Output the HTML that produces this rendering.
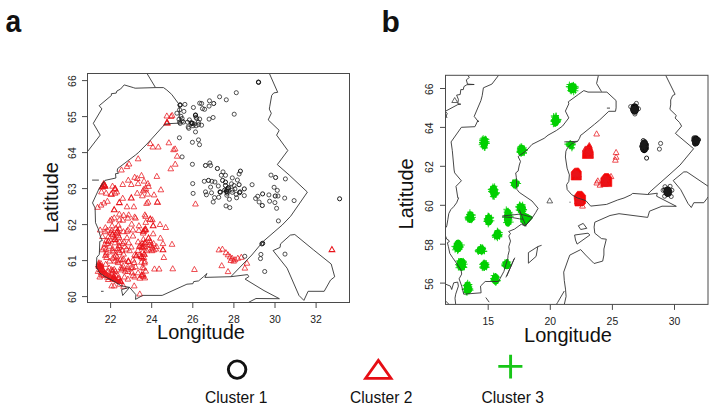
<!DOCTYPE html>
<html><head><meta charset="utf-8"><style>
html,body{margin:0;padding:0;background:#fff;overflow:hidden;width:714px;height:411px;}
svg{display:block;}
text{font-family:"Liberation Sans", sans-serif;}
</style></head><body>
<svg width="714" height="411" viewBox="0 0 714 411">
<defs><clipPath id="clipA"><rect x="87.5" y="73.5" width="262" height="229"/></clipPath><clipPath id="clipB"><rect x="445.5" y="75.3" width="262.5" height="229.1"/></clipPath></defs>
<g clip-path="url(#clipA)">
<path d="M97.5,264 L100.5,262.5 L103.5,264.5 L104.5,269 L108,272.5 L115,276.5 L121,280.5 L121.5,284 L117,283.8 L110,280.5 L104,276.5 L99.5,272.5 L97.5,268.5 Z" fill="#f20a0a" fill-opacity="0.85" stroke="none"/>
<circle cx="236.3" cy="92.7" r="2.05" fill="none" stroke="#1a1a1a" stroke-width="0.75"/>
<circle cx="219.6" cy="96.8" r="2.05" fill="none" stroke="#1a1a1a" stroke-width="0.75"/>
<circle cx="226.3" cy="99.8" r="2.05" fill="none" stroke="#1a1a1a" stroke-width="0.75"/>
<circle cx="209.5" cy="100.8" r="2.05" fill="none" stroke="#1a1a1a" stroke-width="0.75"/>
<circle cx="199.7" cy="103.2" r="2.05" fill="none" stroke="#1a1a1a" stroke-width="0.75"/>
<circle cx="201.6" cy="103.5" r="2.05" fill="none" stroke="#1a1a1a" stroke-width="0.75"/>
<circle cx="193.4" cy="107.5" r="2.05" fill="none" stroke="#1a1a1a" stroke-width="0.75"/>
<circle cx="209.1" cy="106.1" r="2.05" fill="none" stroke="#1a1a1a" stroke-width="0.75"/>
<circle cx="202.5" cy="108.6" r="2.05" fill="none" stroke="#1a1a1a" stroke-width="0.75"/>
<circle cx="204.6" cy="109.3" r="2.05" fill="none" stroke="#1a1a1a" stroke-width="0.75"/>
<circle cx="234.2" cy="114.2" r="2.05" fill="none" stroke="#1a1a1a" stroke-width="0.75"/>
<circle cx="184.9" cy="104.4" r="2.05" fill="none" stroke="#1a1a1a" stroke-width="0.75"/>
<circle cx="179.6" cy="109.8" r="2.05" fill="none" stroke="#1a1a1a" stroke-width="0.75"/>
<circle cx="183.9" cy="111.4" r="2.05" fill="none" stroke="#1a1a1a" stroke-width="0.75"/>
<circle cx="176.9" cy="113.2" r="2.05" fill="none" stroke="#1a1a1a" stroke-width="0.75"/>
<circle cx="209.1" cy="119.1" r="2.05" fill="none" stroke="#1a1a1a" stroke-width="0.75"/>
<circle cx="213.1" cy="117.5" r="2.05" fill="none" stroke="#1a1a1a" stroke-width="0.75"/>
<circle cx="199.7" cy="119.1" r="2.05" fill="none" stroke="#1a1a1a" stroke-width="0.75"/>
<circle cx="189.4" cy="119.9" r="2.05" fill="none" stroke="#1a1a1a" stroke-width="0.75"/>
<circle cx="179.0" cy="119.3" r="2.05" fill="none" stroke="#1a1a1a" stroke-width="0.75"/>
<circle cx="182.1" cy="121.1" r="2.05" fill="none" stroke="#1a1a1a" stroke-width="0.75"/>
<circle cx="213.7" cy="103.5" r="2.05" fill="none" stroke="#1a1a1a" stroke-width="1.0"/>
<circle cx="180.2" cy="104.9" r="2.05" fill="none" stroke="#1a1a1a" stroke-width="1.0"/>
<circle cx="195.5" cy="115.0" r="2.05" fill="none" stroke="#1a1a1a" stroke-width="1.0"/>
<circle cx="196.7" cy="118.5" r="2.05" fill="none" stroke="#1a1a1a" stroke-width="0.75"/>
<circle cx="194.2" cy="124.0" r="2.05" fill="none" stroke="#1a1a1a" stroke-width="0.75"/>
<circle cx="193.0" cy="125.8" r="2.05" fill="none" stroke="#1a1a1a" stroke-width="0.75"/>
<circle cx="196.1" cy="125.8" r="2.05" fill="none" stroke="#1a1a1a" stroke-width="0.75"/>
<circle cx="198.5" cy="124.6" r="2.05" fill="none" stroke="#1a1a1a" stroke-width="0.75"/>
<circle cx="201.6" cy="125.2" r="2.05" fill="none" stroke="#1a1a1a" stroke-width="0.75"/>
<circle cx="187.5" cy="122.2" r="2.05" fill="none" stroke="#1a1a1a" stroke-width="0.75"/>
<circle cx="188.8" cy="128.3" r="2.05" fill="none" stroke="#1a1a1a" stroke-width="0.75"/>
<circle cx="195.5" cy="131.9" r="2.05" fill="none" stroke="#1a1a1a" stroke-width="0.75"/>
<circle cx="179.6" cy="122.2" r="2.05" fill="none" stroke="#1a1a1a" stroke-width="0.75"/>
<circle cx="180.2" cy="123.4" r="2.05" fill="none" stroke="#1a1a1a" stroke-width="0.75"/>
<circle cx="182.1" cy="118.5" r="2.05" fill="none" stroke="#1a1a1a" stroke-width="0.75"/>
<circle cx="179.4" cy="137.8" r="2.05" fill="none" stroke="#1a1a1a" stroke-width="0.75"/>
<circle cx="192.4" cy="142.3" r="2.05" fill="none" stroke="#1a1a1a" stroke-width="0.75"/>
<circle cx="198.5" cy="139.9" r="2.05" fill="none" stroke="#1a1a1a" stroke-width="0.75"/>
<circle cx="199.5" cy="144.7" r="2.05" fill="none" stroke="#1a1a1a" stroke-width="0.75"/>
<circle cx="182.1" cy="156.9" r="2.05" fill="none" stroke="#1a1a1a" stroke-width="0.75"/>
<circle cx="191.2" cy="122.8" r="2.05" fill="none" stroke="#1a1a1a" stroke-width="1.0"/>
<circle cx="192.1" cy="123.6" r="2.05" fill="none" stroke="#1a1a1a" stroke-width="1.0"/>
<path d="M166.8,112.9 L169.7,118.0 L164.0,118.0 Z" fill="none" stroke="#e8141b" stroke-width="0.75"/>
<path d="M172.1,112.3 L174.9,117.4 L169.2,117.4 Z" fill="none" stroke="#e8141b" stroke-width="0.75"/>
<path d="M168.9,139.7 L171.7,144.8 L166.0,144.8 Z" fill="none" stroke="#e8141b" stroke-width="0.75"/>
<path d="M175.1,145.8 L178.0,150.9 L172.3,150.9 Z" fill="none" stroke="#e8141b" stroke-width="0.75"/>
<path d="M177.2,153.1 L180.0,158.2 L174.3,158.2 Z" fill="none" stroke="#e8141b" stroke-width="0.75"/>
<path d="M167.2,119.6 L170.0,124.7 L164.3,124.7 Z" fill="none" stroke="#e8141b" stroke-width="1.05"/>
<path d="M171.1,113.4 L173.9,118.5 L168.2,118.5 Z" fill="none" stroke="#e8141b" stroke-width="0.75"/>
<path d="M150.4,140.5 L153.2,145.6 L147.5,145.6 Z" fill="none" stroke="#e8141b" stroke-width="0.75"/>
<path d="M152.8,143.9 L155.6,149.0 L149.9,149.0 Z" fill="none" stroke="#e8141b" stroke-width="0.75"/>
<path d="M158.3,143.9 L161.1,149.0 L155.4,149.0 Z" fill="none" stroke="#e8141b" stroke-width="0.75"/>
<path d="M138.2,155.7 L141.0,160.8 L135.3,160.8 Z" fill="none" stroke="#e8141b" stroke-width="0.75"/>
<path d="M129.0,160.9 L131.9,166.0 L126.2,166.0 Z" fill="none" stroke="#e8141b" stroke-width="0.75"/>
<path d="M173.5,146.6 L176.4,151.7 L170.7,151.7 Z" fill="none" stroke="#e8141b" stroke-width="0.75"/>
<path d="M166.8,119.8 L169.7,124.9 L164.0,124.9 Z" fill="none" stroke="#e8141b" stroke-width="1.05"/>
<circle cx="258.4" cy="82.1" r="2.05" fill="none" stroke="#1a1a1a" stroke-width="1.0"/>
<circle cx="258.6" cy="82.3" r="2.05" fill="none" stroke="#1a1a1a" stroke-width="1.0"/>
<circle cx="271.0" cy="175.1" r="2.05" fill="none" stroke="#1a1a1a" stroke-width="0.75"/>
<circle cx="285.4" cy="178.9" r="2.05" fill="none" stroke="#1a1a1a" stroke-width="0.75"/>
<circle cx="275.6" cy="177.5" r="2.05" fill="none" stroke="#1a1a1a" stroke-width="1.0"/>
<circle cx="274.1" cy="187.3" r="2.05" fill="none" stroke="#1a1a1a" stroke-width="0.75"/>
<circle cx="277.3" cy="190.4" r="2.05" fill="none" stroke="#1a1a1a" stroke-width="0.75"/>
<circle cx="268.9" cy="194.9" r="2.05" fill="none" stroke="#1a1a1a" stroke-width="0.75"/>
<circle cx="257.7" cy="196.3" r="2.05" fill="none" stroke="#1a1a1a" stroke-width="0.75"/>
<circle cx="255.6" cy="198.5" r="2.05" fill="none" stroke="#1a1a1a" stroke-width="0.75"/>
<circle cx="278.0" cy="196.0" r="2.05" fill="none" stroke="#1a1a1a" stroke-width="0.75"/>
<circle cx="284.7" cy="198.1" r="2.05" fill="none" stroke="#1a1a1a" stroke-width="0.75"/>
<circle cx="294.1" cy="200.6" r="2.05" fill="none" stroke="#1a1a1a" stroke-width="0.75"/>
<circle cx="269.6" cy="201.2" r="2.05" fill="none" stroke="#1a1a1a" stroke-width="0.75"/>
<circle cx="274.9" cy="202.6" r="2.05" fill="none" stroke="#1a1a1a" stroke-width="0.75"/>
<circle cx="259.1" cy="202.0" r="2.05" fill="none" stroke="#1a1a1a" stroke-width="0.75"/>
<circle cx="276.6" cy="208.3" r="2.05" fill="none" stroke="#1a1a1a" stroke-width="0.75"/>
<circle cx="278.4" cy="220.9" r="2.05" fill="none" stroke="#1a1a1a" stroke-width="0.75"/>
<circle cx="262.6" cy="193.9" r="2.05" fill="none" stroke="#1a1a1a" stroke-width="1.0"/>
<circle cx="275.2" cy="196.0" r="2.05" fill="none" stroke="#1a1a1a" stroke-width="1.0"/>
<circle cx="262.3" cy="205.5" r="2.05" fill="none" stroke="#1a1a1a" stroke-width="1.0"/>
<circle cx="339.6" cy="198.8" r="2.05" fill="none" stroke="#1a1a1a" stroke-width="1.0"/>
<circle cx="209.8" cy="163.0" r="2.05" fill="none" stroke="#1a1a1a" stroke-width="0.75"/>
<circle cx="210.6" cy="165.5" r="2.05" fill="none" stroke="#1a1a1a" stroke-width="0.75"/>
<circle cx="223.0" cy="171.9" r="2.05" fill="none" stroke="#1a1a1a" stroke-width="0.75"/>
<circle cx="221.3" cy="175.3" r="2.05" fill="none" stroke="#1a1a1a" stroke-width="0.75"/>
<circle cx="225.5" cy="175.3" r="2.05" fill="none" stroke="#1a1a1a" stroke-width="0.75"/>
<circle cx="239.1" cy="174.0" r="2.05" fill="none" stroke="#1a1a1a" stroke-width="0.75"/>
<circle cx="204.3" cy="181.3" r="2.05" fill="none" stroke="#1a1a1a" stroke-width="0.75"/>
<circle cx="211.9" cy="181.3" r="2.05" fill="none" stroke="#1a1a1a" stroke-width="0.75"/>
<circle cx="214.9" cy="182.0" r="2.05" fill="none" stroke="#1a1a1a" stroke-width="0.75"/>
<circle cx="232.3" cy="177.9" r="2.05" fill="none" stroke="#1a1a1a" stroke-width="0.75"/>
<circle cx="237.4" cy="180.0" r="2.05" fill="none" stroke="#1a1a1a" stroke-width="0.75"/>
<circle cx="210.6" cy="187.1" r="2.05" fill="none" stroke="#1a1a1a" stroke-width="0.75"/>
<circle cx="218.3" cy="186.0" r="2.05" fill="none" stroke="#1a1a1a" stroke-width="0.75"/>
<circle cx="234.0" cy="185.5" r="2.05" fill="none" stroke="#1a1a1a" stroke-width="0.75"/>
<circle cx="252.1" cy="184.7" r="2.05" fill="none" stroke="#1a1a1a" stroke-width="0.75"/>
<circle cx="205.5" cy="191.9" r="2.05" fill="none" stroke="#1a1a1a" stroke-width="0.75"/>
<circle cx="211.5" cy="192.8" r="2.05" fill="none" stroke="#1a1a1a" stroke-width="0.75"/>
<circle cx="232.3" cy="192.3" r="2.05" fill="none" stroke="#1a1a1a" stroke-width="0.75"/>
<circle cx="231.5" cy="183.8" r="2.05" fill="none" stroke="#1a1a1a" stroke-width="0.75"/>
<circle cx="234.9" cy="188.9" r="2.05" fill="none" stroke="#1a1a1a" stroke-width="0.75"/>
<circle cx="205.5" cy="165.5" r="2.05" fill="none" stroke="#1a1a1a" stroke-width="1.0"/>
<circle cx="217.4" cy="168.5" r="2.05" fill="none" stroke="#1a1a1a" stroke-width="1.0"/>
<circle cx="240.4" cy="171.1" r="2.05" fill="none" stroke="#1a1a1a" stroke-width="1.0"/>
<circle cx="208.5" cy="180.4" r="2.05" fill="none" stroke="#1a1a1a" stroke-width="1.0"/>
<circle cx="222.6" cy="180.4" r="2.05" fill="none" stroke="#1a1a1a" stroke-width="1.0"/>
<circle cx="225.5" cy="185.5" r="2.05" fill="none" stroke="#1a1a1a" stroke-width="1.0"/>
<circle cx="239.1" cy="184.7" r="2.05" fill="none" stroke="#1a1a1a" stroke-width="1.0"/>
<circle cx="244.3" cy="188.9" r="2.05" fill="none" stroke="#1a1a1a" stroke-width="1.0"/>
<circle cx="220.0" cy="191.9" r="2.05" fill="none" stroke="#1a1a1a" stroke-width="1.0"/>
<circle cx="227.2" cy="191.5" r="2.05" fill="none" stroke="#1a1a1a" stroke-width="1.0"/>
<circle cx="240.0" cy="191.9" r="2.05" fill="none" stroke="#1a1a1a" stroke-width="1.0"/>
<circle cx="225.5" cy="182.1" r="2.05" fill="none" stroke="#1a1a1a" stroke-width="1.0"/>
<circle cx="228.1" cy="188.1" r="2.05" fill="none" stroke="#1a1a1a" stroke-width="1.0"/>
<circle cx="226.8" cy="195.2" r="2.05" fill="none" stroke="#1a1a1a" stroke-width="0.75"/>
<circle cx="232.3" cy="190.1" r="2.05" fill="none" stroke="#1a1a1a" stroke-width="0.75"/>
<circle cx="244.3" cy="195.6" r="2.05" fill="none" stroke="#1a1a1a" stroke-width="0.75"/>
<circle cx="236.2" cy="194.4" r="2.05" fill="none" stroke="#1a1a1a" stroke-width="0.75"/>
<circle cx="236.6" cy="197.8" r="2.05" fill="none" stroke="#1a1a1a" stroke-width="0.75"/>
<circle cx="229.4" cy="199.3" r="2.05" fill="none" stroke="#1a1a1a" stroke-width="0.75"/>
<circle cx="218.7" cy="197.3" r="2.05" fill="none" stroke="#1a1a1a" stroke-width="0.75"/>
<circle cx="214.5" cy="197.6" r="2.05" fill="none" stroke="#1a1a1a" stroke-width="0.75"/>
<circle cx="206.4" cy="194.8" r="2.05" fill="none" stroke="#1a1a1a" stroke-width="0.75"/>
<circle cx="213.2" cy="202.0" r="2.05" fill="none" stroke="#1a1a1a" stroke-width="0.75"/>
<circle cx="226.0" cy="205.9" r="2.05" fill="none" stroke="#1a1a1a" stroke-width="0.75"/>
<circle cx="229.8" cy="207.6" r="2.05" fill="none" stroke="#1a1a1a" stroke-width="0.75"/>
<circle cx="227.2" cy="189.3" r="2.05" fill="none" stroke="#1a1a1a" stroke-width="1.0"/>
<circle cx="227.2" cy="193.1" r="2.05" fill="none" stroke="#1a1a1a" stroke-width="1.0"/>
<circle cx="239.6" cy="192.7" r="2.05" fill="none" stroke="#1a1a1a" stroke-width="1.0"/>
<circle cx="220.4" cy="192.2" r="2.05" fill="none" stroke="#1a1a1a" stroke-width="1.0"/>
<circle cx="226.4" cy="191.0" r="2.05" fill="none" stroke="#1a1a1a" stroke-width="1.0"/>
<circle cx="228.5" cy="187.6" r="2.05" fill="none" stroke="#1a1a1a" stroke-width="1.0"/>
<circle cx="224.7" cy="190.1" r="2.05" fill="none" stroke="#1a1a1a" stroke-width="1.0"/>
<path d="M175.2,161.1 L178.1,166.2 L172.4,166.2 Z" fill="none" stroke="#e8141b" stroke-width="0.75"/>
<path d="M170.8,165.7 L173.6,170.8 L167.9,170.8 Z" fill="none" stroke="#e8141b" stroke-width="0.75"/>
<circle cx="192.4" cy="164.3" r="2.05" fill="none" stroke="#1a1a1a" stroke-width="0.75"/>
<circle cx="192.7" cy="183.6" r="2.05" fill="none" stroke="#1a1a1a" stroke-width="0.75"/>
<circle cx="193.1" cy="193.4" r="2.05" fill="none" stroke="#1a1a1a" stroke-width="0.75"/>
<path d="M195.5,200.9 L198.3,206.0 L192.6,206.0 Z" fill="none" stroke="#e8141b" stroke-width="0.75"/>
<circle cx="260.9" cy="254.4" r="2.05" fill="none" stroke="#1a1a1a" stroke-width="0.75"/>
<circle cx="260.5" cy="258.6" r="2.05" fill="none" stroke="#1a1a1a" stroke-width="0.75"/>
<circle cx="285.0" cy="254.1" r="2.05" fill="none" stroke="#1a1a1a" stroke-width="0.75"/>
<circle cx="264.7" cy="271.5" r="2.05" fill="none" stroke="#1a1a1a" stroke-width="0.75"/>
<circle cx="261.9" cy="243.9" r="2.05" fill="none" stroke="#1a1a1a" stroke-width="1.0"/>
<circle cx="262.7" cy="243.3" r="2.05" fill="none" stroke="#1a1a1a" stroke-width="1.0"/>
<path d="M331.9,246.5 L334.8,251.6 L329.1,251.6 Z" fill="none" stroke="#e8141b" stroke-width="1.05"/>
<path d="M165.7,224.4 L168.6,229.5 L162.9,229.5 Z" fill="none" stroke="#e8141b" stroke-width="0.75"/>
<path d="M172.0,241.2 L174.9,246.3 L169.2,246.3 Z" fill="none" stroke="#e8141b" stroke-width="0.75"/>
<path d="M218.9,246.8 L221.8,251.9 L216.1,251.9 Z" fill="none" stroke="#e8141b" stroke-width="0.75"/>
<path d="M222.4,246.1 L225.3,251.2 L219.6,251.2 Z" fill="none" stroke="#e8141b" stroke-width="0.75"/>
<path d="M225.9,249.6 L228.8,254.7 L223.1,254.7 Z" fill="none" stroke="#e8141b" stroke-width="0.75"/>
<path d="M228.0,251.7 L230.9,256.8 L225.2,256.8 Z" fill="none" stroke="#e8141b" stroke-width="0.75"/>
<path d="M230.1,253.8 L233.0,258.9 L227.3,258.9 Z" fill="none" stroke="#e8141b" stroke-width="0.75"/>
<path d="M232.2,255.2 L235.1,260.3 L229.4,260.3 Z" fill="none" stroke="#e8141b" stroke-width="0.75"/>
<path d="M235.0,256.6 L237.9,261.7 L232.2,261.7 Z" fill="none" stroke="#e8141b" stroke-width="0.75"/>
<path d="M237.8,255.2 L240.7,260.3 L235.0,260.3 Z" fill="none" stroke="#e8141b" stroke-width="0.75"/>
<path d="M241.3,254.2 L244.2,259.3 L238.5,259.3 Z" fill="none" stroke="#e8141b" stroke-width="0.75"/>
<path d="M230.8,257.3 L233.7,262.4 L228.0,262.4 Z" fill="none" stroke="#e8141b" stroke-width="0.75"/>
<path d="M233.6,258.0 L236.5,263.1 L230.8,263.1 Z" fill="none" stroke="#e8141b" stroke-width="0.75"/>
<path d="M246.9,260.1 L249.8,265.2 L244.1,265.2 Z" fill="none" stroke="#e8141b" stroke-width="0.75"/>
<path d="M244.8,265.0 L247.7,270.1 L242.0,270.1 Z" fill="none" stroke="#e8141b" stroke-width="0.75"/>
<path d="M221.7,262.6 L224.6,267.7 L218.9,267.7 Z" fill="none" stroke="#e8141b" stroke-width="0.75"/>
<path d="M228.0,268.5 L230.9,273.6 L225.2,273.6 Z" fill="none" stroke="#e8141b" stroke-width="0.75"/>
<path d="M172.7,265.7 L175.6,270.8 L169.9,270.8 Z" fill="none" stroke="#e8141b" stroke-width="0.75"/>
<path d="M194.4,266.4 L197.3,271.5 L191.6,271.5 Z" fill="none" stroke="#e8141b" stroke-width="0.75"/>
<circle cx="244.8" cy="256.3" r="2.05" fill="none" stroke="#1a1a1a" stroke-width="0.75"/>
<path d="M127.0,163.5 L129.8,168.6 L124.2,168.6 Z" fill="none" stroke="#e8141b" stroke-width="0.75"/>
<path d="M121.5,166.9 L124.3,172.0 L118.6,172.0 Z" fill="none" stroke="#e8141b" stroke-width="0.75"/>
<path d="M141.5,172.4 L144.3,177.6 L138.6,177.6 Z" fill="none" stroke="#e8141b" stroke-width="0.75"/>
<path d="M134.7,174.2 L137.5,179.3 L131.8,179.3 Z" fill="none" stroke="#e8141b" stroke-width="0.75"/>
<path d="M137.2,175.4 L140.1,180.5 L134.4,180.5 Z" fill="none" stroke="#e8141b" stroke-width="0.75"/>
<path d="M128.3,177.1 L131.1,182.2 L125.4,182.2 Z" fill="none" stroke="#e8141b" stroke-width="0.75"/>
<path d="M122.7,181.4 L125.6,186.5 L119.9,186.5 Z" fill="none" stroke="#e8141b" stroke-width="0.75"/>
<path d="M131.3,181.4 L134.1,186.5 L128.4,186.5 Z" fill="none" stroke="#e8141b" stroke-width="0.75"/>
<path d="M138.1,180.5 L140.9,185.6 L135.2,185.6 Z" fill="none" stroke="#e8141b" stroke-width="0.75"/>
<path d="M144.0,178.0 L146.9,183.1 L141.2,183.1 Z" fill="none" stroke="#e8141b" stroke-width="0.75"/>
<path d="M112.5,183.1 L115.4,188.2 L109.7,188.2 Z" fill="none" stroke="#e8141b" stroke-width="0.75"/>
<path d="M115.1,185.2 L117.9,190.3 L112.2,190.3 Z" fill="none" stroke="#e8141b" stroke-width="0.75"/>
<path d="M145.7,185.6 L148.6,190.7 L142.9,190.7 Z" fill="none" stroke="#e8141b" stroke-width="0.75"/>
<path d="M104.0,181.8 L106.9,186.9 L101.2,186.9 Z" fill="none" stroke="#e8141b" stroke-width="1.05"/>
<path d="M102.3,183.9 L105.2,189.0 L99.5,189.0 Z" fill="none" stroke="#e8141b" stroke-width="1.05"/>
<path d="M103.6,181.0 L106.4,186.1 L100.7,186.1 Z" fill="none" stroke="#e8141b" stroke-width="1.05"/>
<path d="M104.9,183.1 L107.7,188.2 L102.0,188.2 Z" fill="none" stroke="#e8141b" stroke-width="1.05"/>
<path d="M101.5,188.8 L104.3,193.9 L98.6,193.9 Z" fill="none" stroke="#e8141b" stroke-width="0.75"/>
<path d="M106.1,190.1 L109.0,195.2 L103.3,195.2 Z" fill="none" stroke="#e8141b" stroke-width="0.75"/>
<path d="M115.1,190.1 L117.9,195.2 L112.2,195.2 Z" fill="none" stroke="#e8141b" stroke-width="0.75"/>
<path d="M116.8,188.8 L119.6,193.9 L113.9,193.9 Z" fill="none" stroke="#e8141b" stroke-width="0.75"/>
<path d="M122.7,195.2 L125.6,200.3 L119.9,200.3 Z" fill="none" stroke="#e8141b" stroke-width="0.75"/>
<path d="M137.2,190.1 L140.1,195.2 L134.4,195.2 Z" fill="none" stroke="#e8141b" stroke-width="0.75"/>
<path d="M143.2,187.6 L146.0,192.7 L140.3,192.7 Z" fill="none" stroke="#e8141b" stroke-width="0.75"/>
<path d="M142.3,192.7 L145.2,197.8 L139.5,197.8 Z" fill="none" stroke="#e8141b" stroke-width="0.75"/>
<path d="M107.4,198.2 L110.3,203.3 L104.6,203.3 Z" fill="none" stroke="#e8141b" stroke-width="0.75"/>
<path d="M104.0,199.9 L106.9,205.0 L101.2,205.0 Z" fill="none" stroke="#e8141b" stroke-width="0.75"/>
<path d="M101.0,202.0 L103.9,207.1 L98.2,207.1 Z" fill="none" stroke="#e8141b" stroke-width="0.75"/>
<path d="M97.6,204.2 L100.5,209.3 L94.8,209.3 Z" fill="none" stroke="#e8141b" stroke-width="0.75"/>
<path d="M127.0,203.7 L129.8,208.8 L124.2,208.8 Z" fill="none" stroke="#e8141b" stroke-width="0.75"/>
<path d="M133.8,203.7 L136.7,208.8 L131.0,208.8 Z" fill="none" stroke="#e8141b" stroke-width="0.75"/>
<path d="M119.3,211.0 L122.2,216.1 L116.5,216.1 Z" fill="none" stroke="#e8141b" stroke-width="0.75"/>
<path d="M123.6,212.2 L126.4,217.3 L120.7,217.3 Z" fill="none" stroke="#e8141b" stroke-width="0.75"/>
<path d="M128.7,211.8 L131.6,216.9 L125.9,216.9 Z" fill="none" stroke="#e8141b" stroke-width="0.75"/>
<path d="M134.7,213.9 L137.5,219.0 L131.8,219.0 Z" fill="none" stroke="#e8141b" stroke-width="0.75"/>
<path d="M114.2,214.8 L117.1,219.9 L111.4,219.9 Z" fill="none" stroke="#e8141b" stroke-width="0.75"/>
<path d="M111.7,216.1 L114.5,221.2 L108.8,221.2 Z" fill="none" stroke="#e8141b" stroke-width="0.75"/>
<path d="M144.9,211.8 L147.7,216.9 L142.0,216.9 Z" fill="none" stroke="#e8141b" stroke-width="0.75"/>
<path d="M146.6,200.3 L149.4,205.4 L143.7,205.4 Z" fill="none" stroke="#e8141b" stroke-width="0.75"/>
<path d="M102.3,183.3 L105.2,188.4 L99.5,188.4 Z" fill="none" stroke="#e8141b" stroke-width="1.05"/>
<path d="M104.9,182.4 L107.7,187.6 L102.0,187.6 Z" fill="none" stroke="#e8141b" stroke-width="1.05"/>
<path d="M115.1,185.9 L117.9,191.0 L112.2,191.0 Z" fill="none" stroke="#e8141b" stroke-width="1.05"/>
<path d="M111.3,191.0 L114.1,196.1 L108.4,196.1 Z" fill="none" stroke="#e8141b" stroke-width="1.05"/>
<path d="M131.3,194.8 L134.1,199.9 L128.4,199.9 Z" fill="none" stroke="#e8141b" stroke-width="1.05"/>
<path d="M119.3,199.5 L122.2,204.6 L116.5,204.6 Z" fill="none" stroke="#e8141b" stroke-width="1.05"/>
<path d="M114.2,206.7 L117.1,211.8 L111.4,211.8 Z" fill="none" stroke="#e8141b" stroke-width="1.05"/>
<path d="M110.0,217.6 L112.8,222.7 L107.1,222.7 Z" fill="none" stroke="#e8141b" stroke-width="0.75"/>
<path d="M119.3,216.7 L122.2,221.8 L116.5,221.8 Z" fill="none" stroke="#e8141b" stroke-width="0.75"/>
<path d="M122.7,217.1 L125.6,222.2 L119.9,222.2 Z" fill="none" stroke="#e8141b" stroke-width="0.75"/>
<path d="M127.9,215.0 L130.7,220.1 L125.0,220.1 Z" fill="none" stroke="#e8141b" stroke-width="0.75"/>
<path d="M135.5,215.0 L138.4,220.1 L132.7,220.1 Z" fill="none" stroke="#e8141b" stroke-width="0.75"/>
<path d="M145.7,213.3 L148.6,218.4 L142.9,218.4 Z" fill="none" stroke="#e8141b" stroke-width="0.75"/>
<path d="M131.7,221.0 L134.5,226.1 L128.8,226.1 Z" fill="none" stroke="#e8141b" stroke-width="0.75"/>
<path d="M138.9,222.7 L141.8,227.8 L136.1,227.8 Z" fill="none" stroke="#e8141b" stroke-width="0.75"/>
<path d="M145.7,219.3 L148.6,224.4 L142.9,224.4 Z" fill="none" stroke="#e8141b" stroke-width="0.75"/>
<path d="M100.2,226.9 L103.0,232.0 L97.3,232.0 Z" fill="none" stroke="#e8141b" stroke-width="0.75"/>
<path d="M105.3,228.6 L108.1,233.7 L102.4,233.7 Z" fill="none" stroke="#e8141b" stroke-width="0.75"/>
<path d="M112.1,222.7 L115.0,227.8 L109.3,227.8 Z" fill="none" stroke="#e8141b" stroke-width="0.75"/>
<path d="M115.9,225.2 L118.8,230.3 L113.1,230.3 Z" fill="none" stroke="#e8141b" stroke-width="0.75"/>
<path d="M127.0,228.2 L129.8,233.3 L124.2,233.3 Z" fill="none" stroke="#e8141b" stroke-width="0.75"/>
<path d="M133.0,226.9 L135.8,232.0 L130.1,232.0 Z" fill="none" stroke="#e8141b" stroke-width="0.75"/>
<path d="M138.9,227.3 L141.8,232.4 L136.1,232.4 Z" fill="none" stroke="#e8141b" stroke-width="0.75"/>
<path d="M108.3,233.7 L111.1,238.8 L105.4,238.8 Z" fill="none" stroke="#e8141b" stroke-width="0.75"/>
<path d="M116.8,229.5 L119.6,234.6 L113.9,234.6 Z" fill="none" stroke="#e8141b" stroke-width="0.75"/>
<path d="M119.3,234.6 L122.2,239.7 L116.5,239.7 Z" fill="none" stroke="#e8141b" stroke-width="0.75"/>
<path d="M127.0,234.6 L129.8,239.7 L124.2,239.7 Z" fill="none" stroke="#e8141b" stroke-width="0.75"/>
<path d="M133.0,232.9 L135.8,238.0 L130.1,238.0 Z" fill="none" stroke="#e8141b" stroke-width="0.75"/>
<path d="M107.4,240.5 L110.3,245.6 L104.6,245.6 Z" fill="none" stroke="#e8141b" stroke-width="0.75"/>
<path d="M115.1,239.7 L117.9,244.8 L112.2,244.8 Z" fill="none" stroke="#e8141b" stroke-width="0.75"/>
<path d="M122.7,240.5 L125.6,245.6 L119.9,245.6 Z" fill="none" stroke="#e8141b" stroke-width="0.75"/>
<path d="M128.7,239.7 L131.6,244.8 L125.9,244.8 Z" fill="none" stroke="#e8141b" stroke-width="0.75"/>
<path d="M138.1,238.8 L140.9,243.9 L135.2,243.9 Z" fill="none" stroke="#e8141b" stroke-width="0.75"/>
<path d="M104.0,244.8 L106.9,249.9 L101.2,249.9 Z" fill="none" stroke="#e8141b" stroke-width="0.75"/>
<path d="M112.5,245.6 L115.4,250.7 L109.7,250.7 Z" fill="none" stroke="#e8141b" stroke-width="0.75"/>
<path d="M119.3,243.9 L122.2,249.0 L116.5,249.0 Z" fill="none" stroke="#e8141b" stroke-width="0.75"/>
<path d="M131.3,243.9 L134.1,249.0 L128.4,249.0 Z" fill="none" stroke="#e8141b" stroke-width="0.75"/>
<path d="M141.5,243.9 L144.3,249.0 L138.6,249.0 Z" fill="none" stroke="#e8141b" stroke-width="0.75"/>
<path d="M144.9,226.9 L147.7,232.0 L142.0,232.0 Z" fill="none" stroke="#e8141b" stroke-width="1.05"/>
<path d="M144.9,239.7 L147.7,244.8 L142.0,244.8 Z" fill="none" stroke="#e8141b" stroke-width="1.05"/>
<path d="M112.5,231.2 L115.4,236.3 L109.7,236.3 Z" fill="none" stroke="#e8141b" stroke-width="1.05"/>
<path d="M115.1,236.3 L117.9,241.4 L112.2,241.4 Z" fill="none" stroke="#e8141b" stroke-width="1.05"/>
<path d="M108.3,238.0 L111.1,243.1 L105.4,243.1 Z" fill="none" stroke="#e8141b" stroke-width="1.05"/>
<path d="M117.6,227.8 L120.5,232.9 L114.8,232.9 Z" fill="none" stroke="#e8141b" stroke-width="1.05"/>
<path d="M102.3,246.7 L105.2,251.8 L99.5,251.8 Z" fill="none" stroke="#e8141b" stroke-width="0.75"/>
<path d="M106.6,249.3 L109.4,254.4 L103.7,254.4 Z" fill="none" stroke="#e8141b" stroke-width="0.75"/>
<path d="M112.5,247.6 L115.4,252.7 L109.7,252.7 Z" fill="none" stroke="#e8141b" stroke-width="0.75"/>
<path d="M119.3,249.3 L122.2,254.4 L116.5,254.4 Z" fill="none" stroke="#e8141b" stroke-width="0.75"/>
<path d="M123.6,251.0 L126.4,256.1 L120.7,256.1 Z" fill="none" stroke="#e8141b" stroke-width="0.75"/>
<path d="M129.6,247.6 L132.4,252.7 L126.7,252.7 Z" fill="none" stroke="#e8141b" stroke-width="0.75"/>
<path d="M134.7,251.8 L137.5,256.9 L131.8,256.9 Z" fill="none" stroke="#e8141b" stroke-width="0.75"/>
<path d="M139.8,251.8 L142.6,256.9 L136.9,256.9 Z" fill="none" stroke="#e8141b" stroke-width="0.75"/>
<path d="M142.3,255.2 L145.2,260.3 L139.5,260.3 Z" fill="none" stroke="#e8141b" stroke-width="0.75"/>
<path d="M106.6,254.4 L109.4,259.5 L103.7,259.5 Z" fill="none" stroke="#e8141b" stroke-width="0.75"/>
<path d="M112.5,255.2 L115.4,260.3 L109.7,260.3 Z" fill="none" stroke="#e8141b" stroke-width="0.75"/>
<path d="M117.6,257.8 L120.5,262.9 L114.8,262.9 Z" fill="none" stroke="#e8141b" stroke-width="0.75"/>
<path d="M123.6,256.1 L126.4,261.2 L120.7,261.2 Z" fill="none" stroke="#e8141b" stroke-width="0.75"/>
<path d="M128.7,258.6 L131.6,263.7 L125.9,263.7 Z" fill="none" stroke="#e8141b" stroke-width="0.75"/>
<path d="M133.0,256.9 L135.8,262.0 L130.1,262.0 Z" fill="none" stroke="#e8141b" stroke-width="0.75"/>
<path d="M127.9,263.7 L130.7,268.8 L125.0,268.8 Z" fill="none" stroke="#e8141b" stroke-width="0.75"/>
<path d="M131.3,264.6 L134.1,269.7 L128.4,269.7 Z" fill="none" stroke="#e8141b" stroke-width="0.75"/>
<path d="M135.5,263.7 L138.4,268.8 L132.7,268.8 Z" fill="none" stroke="#e8141b" stroke-width="0.75"/>
<path d="M142.3,264.6 L145.2,269.7 L139.5,269.7 Z" fill="none" stroke="#e8141b" stroke-width="0.75"/>
<path d="M145.7,268.0 L148.6,273.1 L142.9,273.1 Z" fill="none" stroke="#e8141b" stroke-width="0.75"/>
<path d="M108.3,268.0 L111.1,273.1 L105.4,273.1 Z" fill="none" stroke="#e8141b" stroke-width="0.75"/>
<path d="M114.2,266.3 L117.1,271.4 L111.4,271.4 Z" fill="none" stroke="#e8141b" stroke-width="0.75"/>
<path d="M121.0,264.6 L123.9,269.7 L118.2,269.7 Z" fill="none" stroke="#e8141b" stroke-width="0.75"/>
<path d="M125.3,268.0 L128.1,273.1 L122.4,273.1 Z" fill="none" stroke="#e8141b" stroke-width="0.75"/>
<path d="M132.1,269.7 L135.0,274.8 L129.3,274.8 Z" fill="none" stroke="#e8141b" stroke-width="0.75"/>
<path d="M138.1,269.7 L140.9,274.8 L135.2,274.8 Z" fill="none" stroke="#e8141b" stroke-width="0.75"/>
<path d="M143.2,271.4 L146.0,276.5 L140.3,276.5 Z" fill="none" stroke="#e8141b" stroke-width="0.75"/>
<path d="M144.9,274.8 L147.7,279.9 L142.0,279.9 Z" fill="none" stroke="#e8141b" stroke-width="0.75"/>
<path d="M99.8,273.9 L102.6,279.0 L96.9,279.0 Z" fill="none" stroke="#e8141b" stroke-width="0.75"/>
<path d="M124.4,273.9 L127.3,279.0 L121.6,279.0 Z" fill="none" stroke="#e8141b" stroke-width="0.75"/>
<path d="M134.7,273.9 L137.5,279.0 L131.8,279.0 Z" fill="none" stroke="#e8141b" stroke-width="0.75"/>
<path d="M128.3,258.2 L131.1,263.3 L125.4,263.3 Z" fill="none" stroke="#e8141b" stroke-width="1.05"/>
<path d="M136.4,252.7 L139.2,257.8 L133.5,257.8 Z" fill="none" stroke="#e8141b" stroke-width="1.05"/>
<path d="M141.5,253.5 L144.3,258.6 L138.6,258.6 Z" fill="none" stroke="#e8141b" stroke-width="1.05"/>
<path d="M111.7,282.8 L114.5,287.9 L108.8,287.9 Z" fill="none" stroke="#e8141b" stroke-width="0.75"/>
<path d="M114.2,282.8 L117.1,287.9 L111.4,287.9 Z" fill="none" stroke="#e8141b" stroke-width="0.75"/>
<path d="M123.6,283.2 L126.4,288.3 L120.7,288.3 Z" fill="none" stroke="#e8141b" stroke-width="0.75"/>
<path d="M134.2,282.8 L137.1,287.9 L131.4,287.9 Z" fill="none" stroke="#e8141b" stroke-width="0.75"/>
<path d="M139.8,290.9 L142.6,296.0 L136.9,296.0 Z" fill="none" stroke="#e8141b" stroke-width="0.75"/>
<path d="M139.8,275.1 L142.6,280.2 L136.9,280.2 Z" fill="none" stroke="#e8141b" stroke-width="0.75"/>
<path d="M143.2,273.4 L146.0,278.5 L140.3,278.5 Z" fill="none" stroke="#e8141b" stroke-width="0.75"/>
<path d="M127.9,276.0 L130.7,281.1 L125.0,281.1 Z" fill="none" stroke="#e8141b" stroke-width="0.75"/>
<path d="M133.0,272.6 L135.8,277.7 L130.1,277.7 Z" fill="none" stroke="#e8141b" stroke-width="0.75"/>
<path d="M155.7,245.9 L158.6,251.0 L152.9,251.0 Z" fill="none" stroke="#e8141b" stroke-width="0.75"/>
<path d="M151.9,247.6 L154.8,252.7 L149.1,252.7 Z" fill="none" stroke="#e8141b" stroke-width="0.75"/>
<path d="M163.8,254.4 L166.7,259.5 L161.0,259.5 Z" fill="none" stroke="#e8141b" stroke-width="0.75"/>
<path d="M143.8,254.4 L146.7,259.5 L141.0,259.5 Z" fill="none" stroke="#e8141b" stroke-width="0.75"/>
<path d="M143.8,265.0 L146.7,270.1 L141.0,270.1 Z" fill="none" stroke="#e8141b" stroke-width="0.75"/>
<path d="M154.5,265.9 L157.3,271.0 L151.6,271.0 Z" fill="none" stroke="#e8141b" stroke-width="0.75"/>
<path d="M159.1,265.9 L162.0,271.0 L156.3,271.0 Z" fill="none" stroke="#e8141b" stroke-width="0.75"/>
<path d="M146.8,247.6 L149.7,252.7 L144.0,252.7 Z" fill="none" stroke="#e8141b" stroke-width="0.75"/>
<path d="M142.6,249.3 L145.4,254.4 L139.7,254.4 Z" fill="none" stroke="#e8141b" stroke-width="0.75"/>
<path d="M163.0,246.7 L165.8,251.8 L160.1,251.8 Z" fill="none" stroke="#e8141b" stroke-width="1.05"/>
<path d="M141.7,272.2 L144.6,277.3 L138.9,277.3 Z" fill="none" stroke="#e8141b" stroke-width="1.05"/>
<path d="M142.6,244.2 L145.4,249.3 L139.7,249.3 Z" fill="none" stroke="#e8141b" stroke-width="1.05"/>
<path d="M144.3,251.0 L147.1,256.1 L141.4,256.1 Z" fill="none" stroke="#e8141b" stroke-width="1.05"/>
<path d="M160.9,186.7 L163.7,191.8 L158.0,191.8 Z" fill="none" stroke="#e8141b" stroke-width="0.75"/>
<path d="M147.7,191.0 L150.5,196.1 L144.8,196.1 Z" fill="none" stroke="#e8141b" stroke-width="0.75"/>
<path d="M154.0,191.8 L156.9,196.9 L151.2,196.9 Z" fill="none" stroke="#e8141b" stroke-width="0.75"/>
<path d="M148.1,199.0 L150.9,204.1 L145.2,204.1 Z" fill="none" stroke="#e8141b" stroke-width="0.75"/>
<path d="M148.5,183.3 L151.4,188.4 L145.7,188.4 Z" fill="none" stroke="#e8141b" stroke-width="0.75"/>
<path d="M157.4,199.0 L160.3,204.1 L154.6,204.1 Z" fill="none" stroke="#e8141b" stroke-width="1.05"/>
<path d="M150.2,216.1 L153.1,221.2 L147.4,221.2 Z" fill="none" stroke="#e8141b" stroke-width="1.05"/>
<path d="M152.3,216.7 L155.2,221.8 L149.5,221.8 Z" fill="none" stroke="#e8141b" stroke-width="0.75"/>
<path d="M160.0,221.4 L162.8,226.5 L157.2,226.5 Z" fill="none" stroke="#e8141b" stroke-width="0.75"/>
<path d="M153.2,230.7 L156.0,235.8 L150.3,235.8 Z" fill="none" stroke="#e8141b" stroke-width="0.75"/>
<path d="M160.4,235.0 L163.3,240.1 L157.6,240.1 Z" fill="none" stroke="#e8141b" stroke-width="0.75"/>
<path d="M163.0,240.5 L165.8,245.6 L160.1,245.6 Z" fill="none" stroke="#e8141b" stroke-width="0.75"/>
<path d="M143.4,236.3 L146.3,241.4 L140.6,241.4 Z" fill="none" stroke="#e8141b" stroke-width="0.75"/>
<path d="M153.6,240.5 L156.5,245.6 L150.8,245.6 Z" fill="none" stroke="#e8141b" stroke-width="0.75"/>
<path d="M156.6,243.5 L159.4,248.6 L153.7,248.6 Z" fill="none" stroke="#e8141b" stroke-width="0.75"/>
<path d="M153.2,222.7 L156.0,227.8 L150.3,227.8 Z" fill="none" stroke="#e8141b" stroke-width="1.05"/>
<path d="M145.5,226.1 L148.4,231.2 L142.7,231.2 Z" fill="none" stroke="#e8141b" stroke-width="1.05"/>
<path d="M143.4,228.2 L146.3,233.3 L140.6,233.3 Z" fill="none" stroke="#e8141b" stroke-width="1.05"/>
<path d="M148.5,235.0 L151.4,240.1 L145.7,240.1 Z" fill="none" stroke="#e8141b" stroke-width="1.05"/>
<path d="M156.8,173.3 L159.7,178.4 L154.0,178.4 Z" fill="none" stroke="#e8141b" stroke-width="0.75"/>
<path d="M147.9,180.5 L150.7,185.6 L145.0,185.6 Z" fill="none" stroke="#e8141b" stroke-width="0.75"/>
<path d="M144.0,186.1 L146.9,191.2 L141.2,191.2 Z" fill="none" stroke="#e8141b" stroke-width="0.75"/>
<circle cx="180.9" cy="116.3" r="2.05" fill="none" stroke="#1a1a1a" stroke-width="0.75"/>
<circle cx="183.4" cy="122.1" r="2.05" fill="none" stroke="#1a1a1a" stroke-width="0.75"/>
<circle cx="196.0" cy="117.3" r="2.05" fill="none" stroke="#1a1a1a" stroke-width="0.75"/>
<circle cx="188.2" cy="127.0" r="2.05" fill="none" stroke="#1a1a1a" stroke-width="0.75"/>
<circle cx="198.4" cy="122.1" r="2.05" fill="none" stroke="#1a1a1a" stroke-width="0.75"/>
<circle cx="180.0" cy="105.1" r="2.05" fill="none" stroke="#1a1a1a" stroke-width="1.0"/>
<circle cx="195.5" cy="115.3" r="2.05" fill="none" stroke="#1a1a1a" stroke-width="1.0"/>
<circle cx="192.1" cy="123.1" r="2.05" fill="none" stroke="#1a1a1a" stroke-width="1.0"/>
<path d="M105.7,261.2 L108.6,266.3 L102.9,266.3 Z" fill="none" stroke="#e8141b" stroke-width="0.75"/>
<path d="M111.5,266.6 L114.3,271.7 L108.6,271.7 Z" fill="none" stroke="#e8141b" stroke-width="0.75"/>
<path d="M98.0,268.3 L100.9,273.4 L95.2,273.4 Z" fill="none" stroke="#e8141b" stroke-width="0.75"/>
<path d="M98.9,259.7 L101.7,264.8 L96.0,264.8 Z" fill="none" stroke="#e8141b" stroke-width="0.75"/>
<path d="M100.3,263.0 L103.2,268.1 L97.5,268.1 Z" fill="none" stroke="#e8141b" stroke-width="0.75"/>
<path d="M112.6,267.4 L115.4,272.5 L109.7,272.5 Z" fill="none" stroke="#e8141b" stroke-width="0.75"/>
<path d="M100.9,260.4 L103.7,265.5 L98.0,265.5 Z" fill="none" stroke="#e8141b" stroke-width="0.75"/>
<path d="M101.9,272.0 L104.7,277.1 L99.0,277.1 Z" fill="none" stroke="#e8141b" stroke-width="0.75"/>
<path d="M98.6,262.6 L101.5,267.7 L95.8,267.7 Z" fill="none" stroke="#e8141b" stroke-width="0.75"/>
<path d="M115.4,268.1 L118.2,273.2 L112.5,273.2 Z" fill="none" stroke="#e8141b" stroke-width="0.75"/>
<path d="M105.5,272.1 L108.3,277.2 L102.6,277.2 Z" fill="none" stroke="#e8141b" stroke-width="0.75"/>
<path d="M109.2,264.9 L112.1,270.0 L106.4,270.0 Z" fill="none" stroke="#e8141b" stroke-width="0.75"/>
<path d="M118.4,274.9 L121.3,280.0 L115.6,280.0 Z" fill="none" stroke="#e8141b" stroke-width="0.75"/>
<path d="M103.6,271.8 L106.4,276.9 L100.7,276.9 Z" fill="none" stroke="#e8141b" stroke-width="0.75"/>
<path d="M108.3,276.4 L111.1,281.5 L105.4,281.5 Z" fill="none" stroke="#e8141b" stroke-width="0.75"/>
<path d="M101.1,269.7 L104.0,274.8 L98.3,274.8 Z" fill="none" stroke="#e8141b" stroke-width="0.75"/>
<path d="M117.6,271.8 L120.5,276.9 L114.8,276.9 Z" fill="none" stroke="#e8141b" stroke-width="0.75"/>
<path d="M115.8,272.3 L118.6,277.4 L112.9,277.4 Z" fill="none" stroke="#e8141b" stroke-width="0.75"/>
<path d="M112.7,268.9 L115.5,274.0 L109.8,274.0 Z" fill="none" stroke="#e8141b" stroke-width="0.75"/>
<path d="M119.7,281.1 L122.5,286.2 L116.8,286.2 Z" fill="none" stroke="#e8141b" stroke-width="0.75"/>
<path d="M109.8,274.1 L112.7,279.2 L107.0,279.2 Z" fill="none" stroke="#e8141b" stroke-width="0.75"/>
<path d="M107.4,274.2 L110.3,279.3 L104.6,279.3 Z" fill="none" stroke="#e8141b" stroke-width="0.75"/>
<path d="M102.5,266.5 L105.3,271.6 L99.6,271.6 Z" fill="none" stroke="#e8141b" stroke-width="1.05"/>
<path d="M99.8,262.8 L102.6,267.9 L96.9,267.9 Z" fill="none" stroke="#e8141b" stroke-width="1.05"/>
<path d="M100.6,266.5 L103.4,271.6 L97.7,271.6 Z" fill="none" stroke="#e8141b" stroke-width="1.05"/>
<path d="M98.8,261.3 L101.6,266.4 L95.9,266.4 Z" fill="none" stroke="#e8141b" stroke-width="1.05"/>
<path d="M99.3,263.3 L102.2,268.4 L96.5,268.4 Z" fill="none" stroke="#e8141b" stroke-width="1.05"/>
<path d="M113.2,275.7 L116.0,280.8 L110.3,280.8 Z" fill="none" stroke="#e8141b" stroke-width="1.05"/>
<path d="M115.2,276.2 L118.1,281.3 L112.4,281.3 Z" fill="none" stroke="#e8141b" stroke-width="1.05"/>
<path d="M120.6,278.0 L123.4,283.1 L117.7,283.1 Z" fill="none" stroke="#e8141b" stroke-width="1.05"/>
<path d="M120.2,278.2 L123.1,283.3 L117.4,283.3 Z" fill="none" stroke="#e8141b" stroke-width="1.05"/>
<path d="M113.5,273.8 L116.3,278.9 L110.6,278.9 Z" fill="none" stroke="#e8141b" stroke-width="1.05"/>
<path d="M106.3,251.2 L109.1,256.3 L103.4,256.3 Z" fill="none" stroke="#e8141b" stroke-width="0.75"/>
<path d="M111.6,227.6 L114.5,232.7 L108.8,232.7 Z" fill="none" stroke="#e8141b" stroke-width="0.75"/>
<path d="M118.3,222.1 L121.2,227.2 L115.5,227.2 Z" fill="none" stroke="#e8141b" stroke-width="0.75"/>
<path d="M106.2,237.6 L109.0,242.7 L103.3,242.7 Z" fill="none" stroke="#e8141b" stroke-width="0.75"/>
<path d="M113.9,236.8 L116.7,241.9 L111.0,241.9 Z" fill="none" stroke="#e8141b" stroke-width="0.75"/>
<path d="M119.6,225.6 L122.4,230.7 L116.7,230.7 Z" fill="none" stroke="#e8141b" stroke-width="0.75"/>
<path d="M124.8,243.6 L127.6,248.7 L121.9,248.7 Z" fill="none" stroke="#e8141b" stroke-width="0.75"/>
<path d="M105.4,224.6 L108.2,229.7 L102.5,229.7 Z" fill="none" stroke="#e8141b" stroke-width="0.75"/>
<path d="M118.5,232.7 L121.3,237.8 L115.6,237.8 Z" fill="none" stroke="#e8141b" stroke-width="0.75"/>
<path d="M127.9,226.8 L130.8,231.9 L125.1,231.9 Z" fill="none" stroke="#e8141b" stroke-width="0.75"/>
<path d="M127.9,268.4 L130.8,273.5 L125.1,273.5 Z" fill="none" stroke="#e8141b" stroke-width="0.75"/>
<path d="M109.5,258.0 L112.4,263.1 L106.7,263.1 Z" fill="none" stroke="#e8141b" stroke-width="0.75"/>
<path d="M117.8,230.6 L120.7,235.7 L115.0,235.7 Z" fill="none" stroke="#e8141b" stroke-width="0.75"/>
<path d="M144.5,259.8 L147.3,264.9 L141.6,264.9 Z" fill="none" stroke="#e8141b" stroke-width="0.75"/>
<path d="M102.4,233.4 L105.3,238.5 L99.6,238.5 Z" fill="none" stroke="#e8141b" stroke-width="0.75"/>
<path d="M114.2,254.1 L117.1,259.2 L111.4,259.2 Z" fill="none" stroke="#e8141b" stroke-width="0.75"/>
<path d="M149.8,241.8 L152.6,246.9 L146.9,246.9 Z" fill="none" stroke="#e8141b" stroke-width="0.75"/>
<path d="M149.7,237.7 L152.6,242.8 L146.9,242.8 Z" fill="none" stroke="#e8141b" stroke-width="0.75"/>
<path d="M111.0,229.7 L113.9,234.8 L108.2,234.8 Z" fill="none" stroke="#e8141b" stroke-width="0.75"/>
<path d="M132.8,264.5 L135.7,269.6 L130.0,269.6 Z" fill="none" stroke="#e8141b" stroke-width="0.75"/>
<path d="M143.9,243.4 L146.7,248.5 L141.0,248.5 Z" fill="none" stroke="#e8141b" stroke-width="0.75"/>
<path d="M134.3,259.4 L137.2,264.5 L131.5,264.5 Z" fill="none" stroke="#e8141b" stroke-width="0.75"/>
<path d="M105.3,252.5 L108.2,257.6 L102.5,257.6 Z" fill="none" stroke="#e8141b" stroke-width="0.75"/>
<path d="M139.3,243.4 L142.1,248.5 L136.4,248.5 Z" fill="none" stroke="#e8141b" stroke-width="0.75"/>
<path d="M118.0,259.5 L120.8,264.6 L115.1,264.6 Z" fill="none" stroke="#e8141b" stroke-width="0.75"/>
<path d="M150.6,239.2 L153.4,244.3 L147.7,244.3 Z" fill="none" stroke="#e8141b" stroke-width="0.75"/>
<path d="M121.5,266.8 L124.3,271.9 L118.6,271.9 Z" fill="none" stroke="#e8141b" stroke-width="0.75"/>
<path d="M107.5,227.0 L110.3,232.1 L104.6,232.1 Z" fill="none" stroke="#e8141b" stroke-width="0.75"/>
<path d="M118.9,246.9 L121.7,252.0 L116.0,252.0 Z" fill="none" stroke="#e8141b" stroke-width="0.75"/>
<path d="M127.9,266.1 L130.7,271.2 L125.0,271.2 Z" fill="none" stroke="#e8141b" stroke-width="0.75"/>
<path d="M123.1,263.0 L126.0,268.1 L120.3,268.1 Z" fill="none" stroke="#e8141b" stroke-width="0.75"/>
<path d="M143.1,230.0 L146.0,235.1 L140.3,235.1 Z" fill="none" stroke="#e8141b" stroke-width="0.75"/>
<path d="M113.8,234.1 L116.7,239.2 L111.0,239.2 Z" fill="none" stroke="#e8141b" stroke-width="0.75"/>
<path d="M113.3,248.8 L116.1,253.9 L110.4,253.9 Z" fill="none" stroke="#e8141b" stroke-width="0.75"/>
<path d="M119.0,242.4 L121.9,247.5 L116.2,247.5 Z" fill="none" stroke="#e8141b" stroke-width="0.75"/>
<path d="M122.5,265.3 L125.3,270.4 L119.6,270.4 Z" fill="none" stroke="#e8141b" stroke-width="0.75"/>
<path d="M126.6,246.0 L129.4,251.1 L123.7,251.1 Z" fill="none" stroke="#e8141b" stroke-width="0.75"/>
<path d="M123.4,228.6 L126.3,233.7 L120.6,233.7 Z" fill="none" stroke="#e8141b" stroke-width="0.75"/>
<path d="M109.8,243.1 L112.6,248.2 L106.9,248.2 Z" fill="none" stroke="#e8141b" stroke-width="0.75"/>
<path d="M138.0,247.3 L140.8,252.4 L135.1,252.4 Z" fill="none" stroke="#e8141b" stroke-width="0.75"/>
<path d="M117.6,245.4 L120.5,250.5 L114.8,250.5 Z" fill="none" stroke="#e8141b" stroke-width="0.75"/>
<path d="M122.3,247.6 L125.2,252.7 L119.5,252.7 Z" fill="none" stroke="#e8141b" stroke-width="0.75"/>
<path d="M117.0,253.7 L119.9,258.8 L114.2,258.8 Z" fill="none" stroke="#e8141b" stroke-width="0.75"/>
<path d="M115.8,252.1 L118.7,257.2 L113.0,257.2 Z" fill="none" stroke="#e8141b" stroke-width="0.75"/>
<path d="M115.0,258.0 L117.8,263.1 L112.1,263.1 Z" fill="none" stroke="#e8141b" stroke-width="0.75"/>
<path d="M120.5,256.5 L123.3,261.6 L117.6,261.6 Z" fill="none" stroke="#e8141b" stroke-width="0.75"/>
<path d="M124.0,238.7 L126.8,243.8 L121.1,243.8 Z" fill="none" stroke="#e8141b" stroke-width="0.75"/>
<path d="M106.0,246.1 L108.9,251.2 L103.2,251.2 Z" fill="none" stroke="#e8141b" stroke-width="0.75"/>
<path d="M104.8,241.2 L107.7,246.3 L102.0,246.3 Z" fill="none" stroke="#e8141b" stroke-width="0.75"/>
<path d="M122.6,257.0 L125.4,262.1 L119.7,262.1 Z" fill="none" stroke="#e8141b" stroke-width="0.75"/>
<path d="M119.5,238.9 L122.4,244.0 L116.7,244.0 Z" fill="none" stroke="#e8141b" stroke-width="0.75"/>
<path d="M144.8,258.2 L147.7,263.3 L142.0,263.3 Z" fill="none" stroke="#e8141b" stroke-width="0.75"/>
<path d="M148.8,246.1 L151.6,251.2 L145.9,251.2 Z" fill="none" stroke="#e8141b" stroke-width="0.75"/>
<path d="M151.3,242.3 L154.2,247.4 L148.5,247.4 Z" fill="none" stroke="#e8141b" stroke-width="0.75"/>
<path d="M144.3,241.7 L147.2,246.8 L141.5,246.8 Z" fill="none" stroke="#e8141b" stroke-width="0.75"/>
<path d="M152.2,244.9 L155.0,250.0 L149.3,250.0 Z" fill="none" stroke="#e8141b" stroke-width="0.75"/>
<path d="M140.4,242.1 L143.2,247.2 L137.5,247.2 Z" fill="none" stroke="#e8141b" stroke-width="0.75"/>
<path d="M153.7,246.8 L156.6,251.9 L150.9,251.9 Z" fill="none" stroke="#e8141b" stroke-width="0.75"/>
<path d="M141.4,259.1 L144.3,264.2 L138.6,264.2 Z" fill="none" stroke="#e8141b" stroke-width="0.75"/>
<path d="M142.3,240.4 L145.2,245.5 L139.5,245.5 Z" fill="none" stroke="#e8141b" stroke-width="0.75"/>
<path d="M147.0,73.5 L155.5,87.6" fill="none" stroke="#333" stroke-width="0.9" stroke-linejoin="round"/>
<path d="M87.5,151.6 L100.2,135.1 L93.3,123.3 L101.9,108.9 L99.2,105.7 L111.4,95.5 L111.4,93.7 L116.2,93.1 L116.9,91.0 L120.5,89.1 L124.2,84.9 L133.3,87.6 L135.1,88.2 L155.5,87.6 L163.5,87.6 L166.8,90.0 L171.7,94.4 L178.5,103.6 L179.5,109.5 L180.0,123.1 L169.7,123.6 L165.0,124.1 L147.9,143.0 L138.2,152.8 L135.5,155.0 L117.6,168.6 L117.2,171.2 L118.5,173.3 L115.5,173.7 L115.9,178.0 L104.9,180.4 L98.9,189.0 L92.5,202.9 L95.1,208.0 L95.5,222.7 L98.1,228.6 L100.6,237.1 L102.3,240.5 L99.8,241.4 L99.3,254.4 L96.8,257.3 L96.4,267.1 L99.8,273.1 L104.0,276.0 L115.1,281.9 L121.0,285.7 L129.6,287.4 L135.9,294.7 L135.5,299.4 L142.7,295.4 L162.2,295.4 L186.9,284.2 L192.9,283.7 L193.7,281.6 L198.6,280.9 L203.5,276.7 L207.0,273.5 L204.9,277.4 L230.8,276.7 L247.6,274.6 L248.8,276.7 L245.1,279.1 L264.0,290.6 L279.4,298.7 L256.0,298.5 L248.3,302.5" fill="none" stroke="#333" stroke-width="0.9" stroke-linejoin="round"/>
<path d="M121.5,289.6 L129.6,287.4 L122.7,295.5 L121.5,289.6" fill="none" stroke="#333" stroke-width="0.9" stroke-linejoin="round"/>
<path d="M92.1,180.1 L98.9,180.1" fill="none" stroke="#333" stroke-width="0.9" stroke-linejoin="round"/>
<path d="M101.0,291.3 L103.6,291.3" fill="none" stroke="#333" stroke-width="0.9" stroke-linejoin="round"/>
<path d="M269.4,73.5 L277.7,92.3 L273.8,92.9 L271.7,95.4 L269.8,106.2 L269.3,109.1 L271.3,113.3 L268.2,119.9 L279.0,130.2 L279.1,130.6 L276.6,135.1 L287.8,150.5 L277.3,164.6 L289.2,175.0 L307.4,192.1 L290.6,216.3 L282.2,225.0 L263.0,241.6 L251.8,255.0 L230.8,276.7" fill="none" stroke="#333" stroke-width="0.9" stroke-linejoin="round"/>
<path d="M273.1,250.6 L280.1,247.4 L280.5,243.9 L290.3,235.1 L294.8,234.5 L313.7,250.0 L331.2,264.0 L334.7,276.8 L330.5,280.1 L324.2,291.3 L308.1,291.3 L303.9,300.4 L299.0,295.5 L287.1,268.2 L273.1,250.6" fill="none" stroke="#333" stroke-width="0.9" stroke-linejoin="round"/>
</g>
<g clip-path="url(#clipB)">
<ellipse cx="572.3" cy="87.8" rx="4.3" ry="5.4" fill="#00d000"/>
<path d="M566.5,84.5H572.3M569.4,81.6V87.4" stroke="#00d000" stroke-width="0.9"/>
<path d="M572.1,88.4H577.9M575.0,85.5V91.3" stroke="#00d000" stroke-width="0.9"/>
<path d="M572.7,86.4H578.5M575.6,83.5V89.3" stroke="#00d000" stroke-width="0.9"/>
<path d="M570.4,87.0H576.2M573.3,84.1V89.9" stroke="#00d000" stroke-width="0.9"/>
<path d="M567.6,88.2H573.4M570.5,85.3V91.1" stroke="#00d000" stroke-width="0.9"/>
<path d="M566.3,86.8H572.1M569.2,83.9V89.7" stroke="#00d000" stroke-width="0.9"/>
<path d="M571.1,88.0H576.9M574.0,85.1V90.9" stroke="#00d000" stroke-width="0.9"/>
<path d="M569.5,86.1H575.3M572.4,83.2V89.0" stroke="#00d000" stroke-width="0.9"/>
<path d="M569.8,86.3H575.6M572.7,83.4V89.2" stroke="#00d000" stroke-width="0.9"/>
<path d="M568.5,86.8H574.3M571.4,83.9V89.7" stroke="#00d000" stroke-width="0.9"/>
<path d="M569.8,89.7H575.6M572.7,86.8V92.6" stroke="#00d000" stroke-width="0.9"/>
<path d="M565.8,86.7H571.6M568.7,83.8V89.6" stroke="#00d000" stroke-width="0.9"/>
<path d="M571.0,86.3H576.8M573.9,83.4V89.2" stroke="#00d000" stroke-width="0.9"/>
<path d="M568.5,89.1H574.3M571.4,86.2V92.0" stroke="#00d000" stroke-width="0.9"/>
<path d="M569.9,88.6H575.7M572.8,85.7V91.5" stroke="#00d000" stroke-width="0.9"/>
<path d="M568.3,91.5H574.1M571.2,88.6V94.4" stroke="#00d000" stroke-width="0.9"/>
<path d="M573.1,87.9H578.9M576.0,85.0V90.8" stroke="#00d000" stroke-width="0.9"/>
<path d="M568.3,89.9H574.1M571.2,87.0V92.8" stroke="#00d000" stroke-width="0.9"/>
<path d="M570.6,84.8H576.4M573.5,81.9V87.7" stroke="#00d000" stroke-width="0.9"/>
<path d="M568.3,90.8H574.1M571.2,87.9V93.7" stroke="#00d000" stroke-width="0.9"/>
<path d="M569.2,86.9H575.0M572.1,84.0V89.8" stroke="#00d000" stroke-width="0.9"/>
<path d="M569.9,87.7H575.7M572.8,84.8V90.6" stroke="#00d000" stroke-width="0.9"/>
<path d="M567.3,90.6H573.1M570.2,87.7V93.5" stroke="#00d000" stroke-width="0.9"/>
<path d="M570.2,87.9H576.0M573.1,85.0V90.8" stroke="#00d000" stroke-width="0.9"/>
<path d="M570.8,92.4H576.6M573.7,89.5V95.3" stroke="#00d000" stroke-width="0.9"/>
<path d="M568.1,90.0H573.9M571.0,87.1V92.9" stroke="#00d000" stroke-width="0.9"/>
<path d="M572.6,90.8H578.4M575.5,87.9V93.7" stroke="#00d000" stroke-width="0.9"/>
<ellipse cx="555.6" cy="120.5" rx="3.8" ry="6.0" fill="#00d000"/>
<path d="M554.4,122.1H560.2M557.3,119.2V125.0" stroke="#00d000" stroke-width="0.9"/>
<path d="M550.9,119.7H556.7M553.8,116.8V122.6" stroke="#00d000" stroke-width="0.9"/>
<path d="M552.1,122.3H557.9M555.0,119.4V125.2" stroke="#00d000" stroke-width="0.9"/>
<path d="M553.8,121.4H559.6M556.7,118.5V124.3" stroke="#00d000" stroke-width="0.9"/>
<path d="M553.1,121.4H558.9M556.0,118.5V124.3" stroke="#00d000" stroke-width="0.9"/>
<path d="M555.4,120.2H561.2M558.3,117.3V123.1" stroke="#00d000" stroke-width="0.9"/>
<path d="M551.4,121.8H557.2M554.3,118.9V124.7" stroke="#00d000" stroke-width="0.9"/>
<path d="M550.5,121.4H556.3M553.4,118.5V124.3" stroke="#00d000" stroke-width="0.9"/>
<path d="M555.2,121.3H561.0M558.1,118.4V124.2" stroke="#00d000" stroke-width="0.9"/>
<path d="M553.3,119.1H559.1M556.2,116.2V122.0" stroke="#00d000" stroke-width="0.9"/>
<path d="M554.5,122.6H560.3M557.4,119.7V125.5" stroke="#00d000" stroke-width="0.9"/>
<path d="M552.0,123.9H557.8M554.9,121.0V126.8" stroke="#00d000" stroke-width="0.9"/>
<path d="M555.1,120.0H560.9M558.0,117.1V122.9" stroke="#00d000" stroke-width="0.9"/>
<path d="M550.9,120.8H556.7M553.8,117.9V123.7" stroke="#00d000" stroke-width="0.9"/>
<path d="M551.7,121.5H557.5M554.6,118.6V124.4" stroke="#00d000" stroke-width="0.9"/>
<path d="M555.7,119.4H561.5M558.6,116.5V122.3" stroke="#00d000" stroke-width="0.9"/>
<path d="M550.7,120.5H556.5M553.6,117.6V123.4" stroke="#00d000" stroke-width="0.9"/>
<path d="M554.2,121.9H560.0M557.1,119.0V124.8" stroke="#00d000" stroke-width="0.9"/>
<path d="M553.2,115.6H559.0M556.1,112.7V118.5" stroke="#00d000" stroke-width="0.9"/>
<path d="M550.8,115.9H556.6M553.7,113.0V118.8" stroke="#00d000" stroke-width="0.9"/>
<path d="M550.5,124.3H556.3M553.4,121.4V127.2" stroke="#00d000" stroke-width="0.9"/>
<path d="M552.2,124.1H558.0M555.1,121.2V127.0" stroke="#00d000" stroke-width="0.9"/>
<path d="M553.1,115.6H558.9M556.0,112.7V118.5" stroke="#00d000" stroke-width="0.9"/>
<path d="M551.0,117.1H556.8M553.9,114.2V120.0" stroke="#00d000" stroke-width="0.9"/>
<ellipse cx="484.4" cy="143.0" rx="3.6" ry="6.2" fill="#00d000"/>
<path d="M484.1,143.3H489.9M487.0,140.4V146.2" stroke="#00d000" stroke-width="0.9"/>
<path d="M481.5,147.9H487.3M484.4,145.0V150.8" stroke="#00d000" stroke-width="0.9"/>
<path d="M479.8,146.8H485.6M482.7,143.9V149.7" stroke="#00d000" stroke-width="0.9"/>
<path d="M483.6,139.4H489.4M486.5,136.5V142.3" stroke="#00d000" stroke-width="0.9"/>
<path d="M479.0,142.5H484.8M481.9,139.6V145.4" stroke="#00d000" stroke-width="0.9"/>
<path d="M483.7,141.6H489.5M486.6,138.7V144.5" stroke="#00d000" stroke-width="0.9"/>
<path d="M480.3,138.1H486.1M483.2,135.2V141.0" stroke="#00d000" stroke-width="0.9"/>
<path d="M481.3,141.0H487.1M484.2,138.1V143.9" stroke="#00d000" stroke-width="0.9"/>
<path d="M482.0,138.8H487.8M484.9,135.9V141.7" stroke="#00d000" stroke-width="0.9"/>
<path d="M480.4,140.1H486.2M483.3,137.2V143.0" stroke="#00d000" stroke-width="0.9"/>
<path d="M479.4,139.0H485.2M482.3,136.1V141.9" stroke="#00d000" stroke-width="0.9"/>
<path d="M482.7,143.3H488.5M485.6,140.4V146.2" stroke="#00d000" stroke-width="0.9"/>
<path d="M478.7,144.7H484.5M481.6,141.8V147.6" stroke="#00d000" stroke-width="0.9"/>
<path d="M482.1,147.9H487.9M485.0,145.0V150.8" stroke="#00d000" stroke-width="0.9"/>
<path d="M481.1,142.3H486.9M484.0,139.4V145.2" stroke="#00d000" stroke-width="0.9"/>
<path d="M480.1,143.4H485.9M483.0,140.5V146.3" stroke="#00d000" stroke-width="0.9"/>
<path d="M482.5,143.6H488.3M485.4,140.7V146.5" stroke="#00d000" stroke-width="0.9"/>
<path d="M481.0,144.9H486.8M483.9,142.0V147.8" stroke="#00d000" stroke-width="0.9"/>
<path d="M481.7,143.8H487.5M484.6,140.9V146.7" stroke="#00d000" stroke-width="0.9"/>
<path d="M479.5,143.7H485.3M482.4,140.8V146.6" stroke="#00d000" stroke-width="0.9"/>
<path d="M479.4,140.2H485.2M482.3,137.3V143.1" stroke="#00d000" stroke-width="0.9"/>
<path d="M483.6,143.0H489.4M486.5,140.1V145.9" stroke="#00d000" stroke-width="0.9"/>
<path d="M481.1,146.3H486.9M484.0,143.4V149.2" stroke="#00d000" stroke-width="0.9"/>
<path d="M481.1,143.6H486.9M484.0,140.7V146.5" stroke="#00d000" stroke-width="0.9"/>
<path d="M480.8,142.0H486.6M483.7,139.1V144.9" stroke="#00d000" stroke-width="0.9"/>
<path d="M479.7,142.2H485.5M482.6,139.3V145.1" stroke="#00d000" stroke-width="0.9"/>
<path d="M482.4,139.9H488.2M485.3,137.0V142.8" stroke="#00d000" stroke-width="0.9"/>
<path d="M482.6,138.7H488.4M485.5,135.8V141.6" stroke="#00d000" stroke-width="0.9"/>
<path d="M480.7,144.3H486.5M483.6,141.4V147.2" stroke="#00d000" stroke-width="0.9"/>
<path d="M479.3,140.6H485.1M482.2,137.7V143.5" stroke="#00d000" stroke-width="0.9"/>
<ellipse cx="521.8" cy="150.3" rx="3.9" ry="5.6" fill="#00d000"/>
<path d="M517.3,148.6H523.1M520.2,145.7V151.5" stroke="#00d000" stroke-width="0.9"/>
<path d="M519.0,150.2H524.8M521.9,147.3V153.1" stroke="#00d000" stroke-width="0.9"/>
<path d="M521.2,152.7H527.0M524.1,149.8V155.6" stroke="#00d000" stroke-width="0.9"/>
<path d="M518.0,149.2H523.8M520.9,146.3V152.1" stroke="#00d000" stroke-width="0.9"/>
<path d="M517.2,152.5H523.0M520.1,149.6V155.4" stroke="#00d000" stroke-width="0.9"/>
<path d="M519.2,152.7H525.0M522.1,149.8V155.6" stroke="#00d000" stroke-width="0.9"/>
<path d="M521.1,149.8H526.9M524.0,146.9V152.7" stroke="#00d000" stroke-width="0.9"/>
<path d="M517.4,149.0H523.2M520.3,146.1V151.9" stroke="#00d000" stroke-width="0.9"/>
<path d="M521.5,149.9H527.3M524.4,147.0V152.8" stroke="#00d000" stroke-width="0.9"/>
<path d="M517.2,151.6H523.0M520.1,148.7V154.5" stroke="#00d000" stroke-width="0.9"/>
<path d="M521.5,150.0H527.3M524.4,147.1V152.9" stroke="#00d000" stroke-width="0.9"/>
<path d="M518.3,153.6H524.1M521.2,150.7V156.5" stroke="#00d000" stroke-width="0.9"/>
<path d="M521.2,153.2H527.0M524.1,150.3V156.1" stroke="#00d000" stroke-width="0.9"/>
<path d="M517.1,151.2H522.9M520.0,148.3V154.1" stroke="#00d000" stroke-width="0.9"/>
<path d="M521.7,150.6H527.5M524.6,147.7V153.5" stroke="#00d000" stroke-width="0.9"/>
<path d="M519.2,148.1H525.0M522.1,145.2V151.0" stroke="#00d000" stroke-width="0.9"/>
<path d="M518.8,152.0H524.6M521.7,149.1V154.9" stroke="#00d000" stroke-width="0.9"/>
<path d="M520.8,150.1H526.6M523.7,147.2V153.0" stroke="#00d000" stroke-width="0.9"/>
<path d="M516.9,148.2H522.7M519.8,145.3V151.1" stroke="#00d000" stroke-width="0.9"/>
<path d="M517.0,147.1H522.8M519.9,144.2V150.0" stroke="#00d000" stroke-width="0.9"/>
<path d="M518.9,148.8H524.7M521.8,145.9V151.7" stroke="#00d000" stroke-width="0.9"/>
<path d="M519.0,147.8H524.8M521.9,144.9V150.7" stroke="#00d000" stroke-width="0.9"/>
<path d="M516.9,149.7H522.7M519.8,146.8V152.6" stroke="#00d000" stroke-width="0.9"/>
<path d="M518.1,153.8H523.9M521.0,150.9V156.7" stroke="#00d000" stroke-width="0.9"/>
<path d="M516.8,150.9H522.6M519.7,148.0V153.8" stroke="#00d000" stroke-width="0.9"/>
<path d="M518.8,146.4H524.6M521.7,143.5V149.3" stroke="#00d000" stroke-width="0.9"/>
<path d="M520.6,150.8H526.4M523.5,147.9V153.7" stroke="#00d000" stroke-width="0.9"/>
<path d="M521.1,147.9H526.9M524.0,145.0V150.8" stroke="#00d000" stroke-width="0.9"/>
<path d="M516.2,152.0H522.0M519.1,149.1V154.9" stroke="#00d000" stroke-width="0.9"/>
<path d="M518.1,146.3H523.9M521.0,143.4V149.2" stroke="#00d000" stroke-width="0.9"/>
<path d="M517.2,152.2H523.0M520.1,149.3V155.1" stroke="#00d000" stroke-width="0.9"/>
<path d="M519.8,148.7H525.6M522.7,145.8V151.6" stroke="#00d000" stroke-width="0.9"/>
<ellipse cx="493.7" cy="191.0" rx="3.9" ry="6.2" fill="#00d000"/>
<path d="M490.0,187.7H495.8M492.9,184.8V190.6" stroke="#00d000" stroke-width="0.9"/>
<path d="M489.9,196.6H495.7M492.8,193.7V199.5" stroke="#00d000" stroke-width="0.9"/>
<path d="M491.9,190.0H497.7M494.8,187.1V192.9" stroke="#00d000" stroke-width="0.9"/>
<path d="M488.0,191.6H493.8M490.9,188.7V194.5" stroke="#00d000" stroke-width="0.9"/>
<path d="M488.8,191.0H494.6M491.7,188.1V193.9" stroke="#00d000" stroke-width="0.9"/>
<path d="M492.5,194.6H498.3M495.4,191.7V197.5" stroke="#00d000" stroke-width="0.9"/>
<path d="M491.1,189.9H496.9M494.0,187.0V192.8" stroke="#00d000" stroke-width="0.9"/>
<path d="M491.3,197.0H497.1M494.2,194.1V199.9" stroke="#00d000" stroke-width="0.9"/>
<path d="M491.7,186.3H497.5M494.6,183.4V189.2" stroke="#00d000" stroke-width="0.9"/>
<path d="M490.6,190.0H496.4M493.5,187.1V192.9" stroke="#00d000" stroke-width="0.9"/>
<path d="M491.7,189.1H497.5M494.6,186.2V192.0" stroke="#00d000" stroke-width="0.9"/>
<path d="M490.5,189.3H496.3M493.4,186.4V192.2" stroke="#00d000" stroke-width="0.9"/>
<path d="M492.6,194.6H498.4M495.5,191.7V197.5" stroke="#00d000" stroke-width="0.9"/>
<path d="M489.6,192.0H495.4M492.5,189.1V194.9" stroke="#00d000" stroke-width="0.9"/>
<path d="M490.3,190.3H496.1M493.2,187.4V193.2" stroke="#00d000" stroke-width="0.9"/>
<path d="M492.5,193.0H498.3M495.4,190.1V195.9" stroke="#00d000" stroke-width="0.9"/>
<path d="M491.5,191.5H497.3M494.4,188.6V194.4" stroke="#00d000" stroke-width="0.9"/>
<path d="M491.7,189.8H497.5M494.6,186.9V192.7" stroke="#00d000" stroke-width="0.9"/>
<path d="M489.0,192.2H494.8M491.9,189.3V195.1" stroke="#00d000" stroke-width="0.9"/>
<path d="M488.7,188.8H494.5M491.6,185.9V191.7" stroke="#00d000" stroke-width="0.9"/>
<path d="M492.8,189.8H498.6M495.7,186.9V192.7" stroke="#00d000" stroke-width="0.9"/>
<path d="M494.1,192.7H499.9M497.0,189.8V195.6" stroke="#00d000" stroke-width="0.9"/>
<path d="M492.7,194.8H498.5M495.6,191.9V197.7" stroke="#00d000" stroke-width="0.9"/>
<path d="M487.8,189.5H493.6M490.7,186.6V192.4" stroke="#00d000" stroke-width="0.9"/>
<path d="M490.6,195.1H496.4M493.5,192.2V198.0" stroke="#00d000" stroke-width="0.9"/>
<path d="M490.7,196.5H496.5M493.6,193.6V199.4" stroke="#00d000" stroke-width="0.9"/>
<path d="M489.6,190.8H495.4M492.5,187.9V193.7" stroke="#00d000" stroke-width="0.9"/>
<path d="M491.0,194.1H496.8M493.9,191.2V197.0" stroke="#00d000" stroke-width="0.9"/>
<path d="M490.7,189.0H496.5M493.6,186.1V191.9" stroke="#00d000" stroke-width="0.9"/>
<path d="M490.0,186.4H495.8M492.9,183.5V189.3" stroke="#00d000" stroke-width="0.9"/>
<path d="M493.7,193.5H499.5M496.6,190.6V196.4" stroke="#00d000" stroke-width="0.9"/>
<path d="M491.8,191.9H497.6M494.7,189.0V194.8" stroke="#00d000" stroke-width="0.9"/>
<ellipse cx="515.0" cy="184.0" rx="3.8" ry="4.1" fill="#00d000"/>
<path d="M510.8,183.1H516.6M513.7,180.2V186.0" stroke="#00d000" stroke-width="0.9"/>
<path d="M513.9,182.3H519.7M516.8,179.4V185.2" stroke="#00d000" stroke-width="0.9"/>
<path d="M513.3,184.4H519.1M516.2,181.5V187.3" stroke="#00d000" stroke-width="0.9"/>
<path d="M512.3,185.1H518.1M515.2,182.2V188.0" stroke="#00d000" stroke-width="0.9"/>
<path d="M515.3,183.5H521.1M518.2,180.6V186.4" stroke="#00d000" stroke-width="0.9"/>
<path d="M512.6,182.9H518.4M515.5,180.0V185.8" stroke="#00d000" stroke-width="0.9"/>
<path d="M510.7,182.6H516.5M513.6,179.7V185.5" stroke="#00d000" stroke-width="0.9"/>
<path d="M512.3,185.9H518.1M515.2,183.0V188.8" stroke="#00d000" stroke-width="0.9"/>
<path d="M510.6,182.7H516.4M513.5,179.8V185.6" stroke="#00d000" stroke-width="0.9"/>
<path d="M511.2,184.8H517.0M514.1,181.9V187.7" stroke="#00d000" stroke-width="0.9"/>
<path d="M513.6,181.3H519.4M516.5,178.4V184.2" stroke="#00d000" stroke-width="0.9"/>
<path d="M512.9,181.8H518.7M515.8,178.9V184.7" stroke="#00d000" stroke-width="0.9"/>
<path d="M513.7,181.9H519.5M516.6,179.0V184.8" stroke="#00d000" stroke-width="0.9"/>
<path d="M509.7,182.5H515.5M512.6,179.6V185.4" stroke="#00d000" stroke-width="0.9"/>
<path d="M512.0,181.8H517.8M514.9,178.9V184.7" stroke="#00d000" stroke-width="0.9"/>
<path d="M512.6,184.3H518.4M515.5,181.4V187.2" stroke="#00d000" stroke-width="0.9"/>
<path d="M512.3,184.6H518.1M515.2,181.7V187.5" stroke="#00d000" stroke-width="0.9"/>
<path d="M514.0,182.4H519.8M516.9,179.5V185.3" stroke="#00d000" stroke-width="0.9"/>
<path d="M512.1,183.9H517.9M515.0,181.0V186.8" stroke="#00d000" stroke-width="0.9"/>
<path d="M510.4,182.4H516.2M513.3,179.5V185.3" stroke="#00d000" stroke-width="0.9"/>
<path d="M511.1,184.2H516.9M514.0,181.3V187.1" stroke="#00d000" stroke-width="0.9"/>
<path d="M512.8,185.0H518.6M515.7,182.1V187.9" stroke="#00d000" stroke-width="0.9"/>
<path d="M510.6,185.5H516.4M513.5,182.6V188.4" stroke="#00d000" stroke-width="0.9"/>
<path d="M513.0,183.2H518.8M515.9,180.3V186.1" stroke="#00d000" stroke-width="0.9"/>
<path d="M512.1,185.7H517.9M515.0,182.8V188.6" stroke="#00d000" stroke-width="0.9"/>
<path d="M513.0,185.5H518.8M515.9,182.6V188.4" stroke="#00d000" stroke-width="0.9"/>
<path d="M512.3,186.5H518.1M515.2,183.6V189.4" stroke="#00d000" stroke-width="0.9"/>
<path d="M511.9,182.7H517.7M514.8,179.8V185.6" stroke="#00d000" stroke-width="0.9"/>
<path d="M512.2,184.5H518.0M515.1,181.6V187.4" stroke="#00d000" stroke-width="0.9"/>
<path d="M512.2,184.9H518.0M515.1,182.0V187.8" stroke="#00d000" stroke-width="0.9"/>
<ellipse cx="470.3" cy="217.0" rx="3.8" ry="5.7" fill="#00d000"/>
<path d="M466.2,219.0H472.0M469.1,216.1V221.9" stroke="#00d000" stroke-width="0.9"/>
<path d="M465.7,217.5H471.5M468.6,214.6V220.4" stroke="#00d000" stroke-width="0.9"/>
<path d="M467.0,212.2H472.8M469.9,209.3V215.1" stroke="#00d000" stroke-width="0.9"/>
<path d="M468.2,218.9H474.0M471.1,216.0V221.8" stroke="#00d000" stroke-width="0.9"/>
<path d="M466.0,214.4H471.8M468.9,211.5V217.3" stroke="#00d000" stroke-width="0.9"/>
<path d="M467.6,216.9H473.4M470.5,214.0V219.8" stroke="#00d000" stroke-width="0.9"/>
<path d="M466.8,217.5H472.6M469.7,214.6V220.4" stroke="#00d000" stroke-width="0.9"/>
<path d="M465.4,216.7H471.2M468.3,213.8V219.6" stroke="#00d000" stroke-width="0.9"/>
<path d="M468.1,217.6H473.9M471.0,214.7V220.5" stroke="#00d000" stroke-width="0.9"/>
<path d="M469.4,214.9H475.2M472.3,212.0V217.8" stroke="#00d000" stroke-width="0.9"/>
<path d="M468.1,216.6H473.9M471.0,213.7V219.5" stroke="#00d000" stroke-width="0.9"/>
<path d="M467.4,218.0H473.2M470.3,215.1V220.9" stroke="#00d000" stroke-width="0.9"/>
<path d="M466.8,217.6H472.6M469.7,214.7V220.5" stroke="#00d000" stroke-width="0.9"/>
<path d="M467.3,220.1H473.1M470.2,217.2V223.0" stroke="#00d000" stroke-width="0.9"/>
<path d="M467.2,217.9H473.0M470.1,215.0V220.8" stroke="#00d000" stroke-width="0.9"/>
<path d="M468.5,220.3H474.3M471.4,217.4V223.2" stroke="#00d000" stroke-width="0.9"/>
<path d="M465.2,219.1H471.0M468.1,216.2V222.0" stroke="#00d000" stroke-width="0.9"/>
<path d="M469.0,218.3H474.8M471.9,215.4V221.2" stroke="#00d000" stroke-width="0.9"/>
<path d="M469.5,219.4H475.3M472.4,216.5V222.3" stroke="#00d000" stroke-width="0.9"/>
<path d="M470.0,215.1H475.8M472.9,212.2V218.0" stroke="#00d000" stroke-width="0.9"/>
<path d="M468.3,215.3H474.1M471.2,212.4V218.2" stroke="#00d000" stroke-width="0.9"/>
<path d="M470.1,217.4H475.9M473.0,214.5V220.3" stroke="#00d000" stroke-width="0.9"/>
<path d="M464.6,217.3H470.4M467.5,214.4V220.2" stroke="#00d000" stroke-width="0.9"/>
<path d="M465.2,220.0H471.0M468.1,217.1V222.9" stroke="#00d000" stroke-width="0.9"/>
<path d="M466.6,220.1H472.4M469.5,217.2V223.0" stroke="#00d000" stroke-width="0.9"/>
<path d="M468.1,215.1H473.9M471.0,212.2V218.0" stroke="#00d000" stroke-width="0.9"/>
<path d="M468.8,218.7H474.6M471.7,215.8V221.6" stroke="#00d000" stroke-width="0.9"/>
<path d="M468.2,214.6H474.0M471.1,211.7V217.5" stroke="#00d000" stroke-width="0.9"/>
<path d="M468.0,217.9H473.8M470.9,215.0V220.8" stroke="#00d000" stroke-width="0.9"/>
<path d="M467.4,218.3H473.2M470.3,215.4V221.2" stroke="#00d000" stroke-width="0.9"/>
<path d="M464.8,218.7H470.6M467.7,215.8V221.6" stroke="#00d000" stroke-width="0.9"/>
<path d="M467.4,218.1H473.2M470.3,215.2V221.0" stroke="#00d000" stroke-width="0.9"/>
<path d="M467.2,216.1H473.0M470.1,213.2V219.0" stroke="#00d000" stroke-width="0.9"/>
<ellipse cx="488.6" cy="220.0" rx="3.9" ry="5.6" fill="#00d000"/>
<path d="M486.3,222.3H492.1M489.2,219.4V225.2" stroke="#00d000" stroke-width="0.9"/>
<path d="M485.0,221.0H490.8M487.9,218.1V223.9" stroke="#00d000" stroke-width="0.9"/>
<path d="M484.0,221.2H489.8M486.9,218.3V224.1" stroke="#00d000" stroke-width="0.9"/>
<path d="M485.7,216.2H491.5M488.6,213.3V219.1" stroke="#00d000" stroke-width="0.9"/>
<path d="M488.3,217.4H494.1M491.2,214.5V220.3" stroke="#00d000" stroke-width="0.9"/>
<path d="M485.9,216.1H491.7M488.8,213.2V219.0" stroke="#00d000" stroke-width="0.9"/>
<path d="M485.2,215.5H491.0M488.1,212.6V218.4" stroke="#00d000" stroke-width="0.9"/>
<path d="M484.8,221.1H490.6M487.7,218.2V224.0" stroke="#00d000" stroke-width="0.9"/>
<path d="M487.0,220.7H492.8M489.9,217.8V223.6" stroke="#00d000" stroke-width="0.9"/>
<path d="M485.4,224.4H491.2M488.3,221.5V227.3" stroke="#00d000" stroke-width="0.9"/>
<path d="M485.5,221.0H491.3M488.4,218.1V223.9" stroke="#00d000" stroke-width="0.9"/>
<path d="M486.0,216.2H491.8M488.9,213.3V219.1" stroke="#00d000" stroke-width="0.9"/>
<path d="M486.4,220.2H492.2M489.3,217.3V223.1" stroke="#00d000" stroke-width="0.9"/>
<path d="M487.2,222.0H493.0M490.1,219.1V224.9" stroke="#00d000" stroke-width="0.9"/>
<path d="M484.4,218.6H490.2M487.3,215.7V221.5" stroke="#00d000" stroke-width="0.9"/>
<path d="M483.8,221.2H489.6M486.7,218.3V224.1" stroke="#00d000" stroke-width="0.9"/>
<path d="M485.5,220.4H491.3M488.4,217.5V223.3" stroke="#00d000" stroke-width="0.9"/>
<path d="M485.6,218.7H491.4M488.5,215.8V221.6" stroke="#00d000" stroke-width="0.9"/>
<path d="M484.3,219.7H490.1M487.2,216.8V222.6" stroke="#00d000" stroke-width="0.9"/>
<path d="M485.1,216.9H490.9M488.0,214.0V219.8" stroke="#00d000" stroke-width="0.9"/>
<path d="M487.2,221.7H493.0M490.1,218.8V224.6" stroke="#00d000" stroke-width="0.9"/>
<path d="M487.9,218.3H493.7M490.8,215.4V221.2" stroke="#00d000" stroke-width="0.9"/>
<path d="M483.5,221.3H489.3M486.4,218.4V224.2" stroke="#00d000" stroke-width="0.9"/>
<path d="M484.8,219.2H490.6M487.7,216.3V222.1" stroke="#00d000" stroke-width="0.9"/>
<path d="M486.6,217.2H492.4M489.5,214.3V220.1" stroke="#00d000" stroke-width="0.9"/>
<path d="M488.6,220.8H494.4M491.5,217.9V223.7" stroke="#00d000" stroke-width="0.9"/>
<path d="M484.5,221.3H490.3M487.4,218.4V224.2" stroke="#00d000" stroke-width="0.9"/>
<path d="M485.4,222.0H491.2M488.3,219.1V224.9" stroke="#00d000" stroke-width="0.9"/>
<path d="M483.7,218.9H489.5M486.6,216.0V221.8" stroke="#00d000" stroke-width="0.9"/>
<path d="M485.7,217.8H491.5M488.6,214.9V220.7" stroke="#00d000" stroke-width="0.9"/>
<ellipse cx="507.9" cy="217.7" rx="3.9" ry="9.1" fill="#00d000"/>
<path d="M504.0,220.6H509.8M506.9,217.7V223.5" stroke="#00d000" stroke-width="0.9"/>
<path d="M506.8,212.3H512.6M509.7,209.4V215.2" stroke="#00d000" stroke-width="0.9"/>
<path d="M504.0,219.3H509.8M506.9,216.4V222.2" stroke="#00d000" stroke-width="0.9"/>
<path d="M506.3,212.9H512.1M509.2,210.0V215.8" stroke="#00d000" stroke-width="0.9"/>
<path d="M506.3,218.4H512.1M509.2,215.5V221.3" stroke="#00d000" stroke-width="0.9"/>
<path d="M507.9,222.1H513.7M510.8,219.2V225.0" stroke="#00d000" stroke-width="0.9"/>
<path d="M506.2,215.8H512.0M509.1,212.9V218.7" stroke="#00d000" stroke-width="0.9"/>
<path d="M505.6,213.6H511.4M508.5,210.7V216.5" stroke="#00d000" stroke-width="0.9"/>
<path d="M504.8,218.2H510.6M507.7,215.3V221.1" stroke="#00d000" stroke-width="0.9"/>
<path d="M502.0,217.2H507.8M504.9,214.3V220.1" stroke="#00d000" stroke-width="0.9"/>
<path d="M505.9,222.1H511.7M508.8,219.2V225.0" stroke="#00d000" stroke-width="0.9"/>
<path d="M504.8,218.7H510.6M507.7,215.8V221.6" stroke="#00d000" stroke-width="0.9"/>
<path d="M504.2,222.1H510.0M507.1,219.2V225.0" stroke="#00d000" stroke-width="0.9"/>
<path d="M503.8,211.0H509.6M506.7,208.1V213.9" stroke="#00d000" stroke-width="0.9"/>
<path d="M503.1,222.6H508.9M506.0,219.7V225.5" stroke="#00d000" stroke-width="0.9"/>
<path d="M503.8,212.4H509.6M506.7,209.5V215.3" stroke="#00d000" stroke-width="0.9"/>
<path d="M504.8,219.6H510.6M507.7,216.7V222.5" stroke="#00d000" stroke-width="0.9"/>
<path d="M506.8,220.0H512.6M509.7,217.1V222.9" stroke="#00d000" stroke-width="0.9"/>
<path d="M504.6,213.7H510.4M507.5,210.8V216.6" stroke="#00d000" stroke-width="0.9"/>
<path d="M506.6,216.0H512.4M509.5,213.1V218.9" stroke="#00d000" stroke-width="0.9"/>
<path d="M504.8,215.9H510.6M507.7,213.0V218.8" stroke="#00d000" stroke-width="0.9"/>
<path d="M505.1,210.6H510.9M508.0,207.7V213.5" stroke="#00d000" stroke-width="0.9"/>
<path d="M503.4,209.3H509.2M506.3,206.4V212.2" stroke="#00d000" stroke-width="0.9"/>
<path d="M504.8,211.1H510.6M507.7,208.2V214.0" stroke="#00d000" stroke-width="0.9"/>
<path d="M505.7,223.3H511.5M508.6,220.4V226.2" stroke="#00d000" stroke-width="0.9"/>
<path d="M506.3,215.6H512.1M509.2,212.7V218.5" stroke="#00d000" stroke-width="0.9"/>
<path d="M507.8,216.7H513.6M510.7,213.8V219.6" stroke="#00d000" stroke-width="0.9"/>
<path d="M504.9,217.9H510.7M507.8,215.0V220.8" stroke="#00d000" stroke-width="0.9"/>
<path d="M503.9,219.6H509.7M506.8,216.7V222.5" stroke="#00d000" stroke-width="0.9"/>
<path d="M507.6,214.2H513.4M510.5,211.3V217.1" stroke="#00d000" stroke-width="0.9"/>
<ellipse cx="521.3" cy="208.5" rx="4.3" ry="4.9" fill="#00d000"/>
<path d="M517.5,209.3H523.3M520.4,206.4V212.2" stroke="#00d000" stroke-width="0.9"/>
<path d="M517.2,205.4H523.0M520.1,202.5V208.3" stroke="#00d000" stroke-width="0.9"/>
<path d="M517.9,206.0H523.7M520.8,203.1V208.9" stroke="#00d000" stroke-width="0.9"/>
<path d="M519.7,207.3H525.5M522.6,204.4V210.2" stroke="#00d000" stroke-width="0.9"/>
<path d="M517.7,210.4H523.5M520.6,207.5V213.3" stroke="#00d000" stroke-width="0.9"/>
<path d="M520.1,211.7H525.9M523.0,208.8V214.6" stroke="#00d000" stroke-width="0.9"/>
<path d="M518.6,206.7H524.4M521.5,203.8V209.6" stroke="#00d000" stroke-width="0.9"/>
<path d="M521.3,209.8H527.1M524.2,206.9V212.7" stroke="#00d000" stroke-width="0.9"/>
<path d="M518.1,205.8H523.9M521.0,202.9V208.7" stroke="#00d000" stroke-width="0.9"/>
<path d="M515.7,209.9H521.5M518.6,207.0V212.8" stroke="#00d000" stroke-width="0.9"/>
<path d="M520.1,207.3H525.9M523.0,204.4V210.2" stroke="#00d000" stroke-width="0.9"/>
<path d="M517.8,212.0H523.6M520.7,209.1V214.9" stroke="#00d000" stroke-width="0.9"/>
<path d="M519.9,208.2H525.7M522.8,205.3V211.1" stroke="#00d000" stroke-width="0.9"/>
<path d="M519.6,208.7H525.4M522.5,205.8V211.6" stroke="#00d000" stroke-width="0.9"/>
<path d="M515.3,207.1H521.1M518.2,204.2V210.0" stroke="#00d000" stroke-width="0.9"/>
<path d="M519.0,210.0H524.8M521.9,207.1V212.9" stroke="#00d000" stroke-width="0.9"/>
<path d="M515.5,206.4H521.3M518.4,203.5V209.3" stroke="#00d000" stroke-width="0.9"/>
<path d="M516.9,204.6H522.7M519.8,201.7V207.5" stroke="#00d000" stroke-width="0.9"/>
<path d="M521.0,209.6H526.8M523.9,206.7V212.5" stroke="#00d000" stroke-width="0.9"/>
<path d="M518.9,212.5H524.7M521.8,209.6V215.4" stroke="#00d000" stroke-width="0.9"/>
<path d="M519.9,206.0H525.7M522.8,203.1V208.9" stroke="#00d000" stroke-width="0.9"/>
<path d="M519.7,209.5H525.5M522.6,206.6V212.4" stroke="#00d000" stroke-width="0.9"/>
<path d="M519.0,209.5H524.8M521.9,206.6V212.4" stroke="#00d000" stroke-width="0.9"/>
<path d="M520.4,211.4H526.2M523.3,208.5V214.3" stroke="#00d000" stroke-width="0.9"/>
<path d="M519.7,204.6H525.5M522.6,201.7V207.5" stroke="#00d000" stroke-width="0.9"/>
<path d="M519.3,209.2H525.1M522.2,206.3V212.1" stroke="#00d000" stroke-width="0.9"/>
<path d="M519.9,209.2H525.7M522.8,206.3V212.1" stroke="#00d000" stroke-width="0.9"/>
<path d="M516.5,210.5H522.3M519.4,207.6V213.4" stroke="#00d000" stroke-width="0.9"/>
<path d="M516.7,204.6H522.5M519.6,201.7V207.5" stroke="#00d000" stroke-width="0.9"/>
<path d="M520.5,209.8H526.3M523.4,206.9V212.7" stroke="#00d000" stroke-width="0.9"/>
<path d="M516.1,207.8H521.9M519.0,204.9V210.7" stroke="#00d000" stroke-width="0.9"/>
<ellipse cx="497.2" cy="234.6" rx="3.8" ry="4.8" fill="#00d000"/>
<path d="M496.5,236.9H502.3M499.4,234.0V239.8" stroke="#00d000" stroke-width="0.9"/>
<path d="M492.0,237.3H497.8M494.9,234.4V240.2" stroke="#00d000" stroke-width="0.9"/>
<path d="M495.1,234.3H500.9M498.0,231.4V237.2" stroke="#00d000" stroke-width="0.9"/>
<path d="M494.5,230.6H500.3M497.4,227.7V233.5" stroke="#00d000" stroke-width="0.9"/>
<path d="M494.0,235.8H499.8M496.9,232.9V238.7" stroke="#00d000" stroke-width="0.9"/>
<path d="M492.3,234.9H498.1M495.2,232.0V237.8" stroke="#00d000" stroke-width="0.9"/>
<path d="M493.0,236.0H498.8M495.9,233.1V238.9" stroke="#00d000" stroke-width="0.9"/>
<path d="M495.0,231.4H500.8M497.9,228.5V234.3" stroke="#00d000" stroke-width="0.9"/>
<path d="M493.7,236.8H499.5M496.6,233.9V239.7" stroke="#00d000" stroke-width="0.9"/>
<path d="M495.8,232.1H501.6M498.7,229.2V235.0" stroke="#00d000" stroke-width="0.9"/>
<path d="M496.5,235.4H502.3M499.4,232.5V238.3" stroke="#00d000" stroke-width="0.9"/>
<path d="M494.5,238.3H500.3M497.4,235.4V241.2" stroke="#00d000" stroke-width="0.9"/>
<path d="M495.9,235.5H501.7M498.8,232.6V238.4" stroke="#00d000" stroke-width="0.9"/>
<path d="M496.4,236.2H502.2M499.3,233.3V239.1" stroke="#00d000" stroke-width="0.9"/>
<path d="M497.0,234.3H502.8M499.9,231.4V237.2" stroke="#00d000" stroke-width="0.9"/>
<path d="M496.0,235.9H501.8M498.9,233.0V238.8" stroke="#00d000" stroke-width="0.9"/>
<path d="M494.4,234.4H500.2M497.3,231.5V237.3" stroke="#00d000" stroke-width="0.9"/>
<path d="M494.5,232.2H500.3M497.4,229.3V235.1" stroke="#00d000" stroke-width="0.9"/>
<path d="M496.0,234.8H501.8M498.9,231.9V237.7" stroke="#00d000" stroke-width="0.9"/>
<path d="M492.2,235.2H498.0M495.1,232.3V238.1" stroke="#00d000" stroke-width="0.9"/>
<path d="M493.6,234.5H499.4M496.5,231.6V237.4" stroke="#00d000" stroke-width="0.9"/>
<path d="M492.0,235.6H497.8M494.9,232.7V238.5" stroke="#00d000" stroke-width="0.9"/>
<path d="M495.8,235.6H501.6M498.7,232.7V238.5" stroke="#00d000" stroke-width="0.9"/>
<path d="M493.6,234.6H499.4M496.5,231.7V237.5" stroke="#00d000" stroke-width="0.9"/>
<path d="M491.6,235.9H497.4M494.5,233.0V238.8" stroke="#00d000" stroke-width="0.9"/>
<path d="M496.9,232.5H502.7M499.8,229.6V235.4" stroke="#00d000" stroke-width="0.9"/>
<path d="M493.9,234.1H499.7M496.8,231.2V237.0" stroke="#00d000" stroke-width="0.9"/>
<ellipse cx="458.1" cy="245.8" rx="4.3" ry="6.2" fill="#00d000"/>
<path d="M456.9,245.7H462.7M459.8,242.8V248.6" stroke="#00d000" stroke-width="0.9"/>
<path d="M453.5,247.0H459.3M456.4,244.1V249.9" stroke="#00d000" stroke-width="0.9"/>
<path d="M453.2,246.3H459.0M456.1,243.4V249.2" stroke="#00d000" stroke-width="0.9"/>
<path d="M454.6,244.3H460.4M457.5,241.4V247.2" stroke="#00d000" stroke-width="0.9"/>
<path d="M456.5,249.0H462.3M459.4,246.1V251.9" stroke="#00d000" stroke-width="0.9"/>
<path d="M457.3,247.2H463.1M460.2,244.3V250.1" stroke="#00d000" stroke-width="0.9"/>
<path d="M455.4,246.4H461.2M458.3,243.5V249.3" stroke="#00d000" stroke-width="0.9"/>
<path d="M454.1,244.8H459.9M457.0,241.9V247.7" stroke="#00d000" stroke-width="0.9"/>
<path d="M455.8,245.5H461.6M458.7,242.6V248.4" stroke="#00d000" stroke-width="0.9"/>
<path d="M456.2,249.0H462.0M459.1,246.1V251.9" stroke="#00d000" stroke-width="0.9"/>
<path d="M454.8,251.2H460.6M457.7,248.3V254.1" stroke="#00d000" stroke-width="0.9"/>
<path d="M452.2,249.8H458.0M455.1,246.9V252.7" stroke="#00d000" stroke-width="0.9"/>
<path d="M456.9,249.0H462.7M459.8,246.1V251.9" stroke="#00d000" stroke-width="0.9"/>
<path d="M459.0,245.0H464.8M461.9,242.1V247.9" stroke="#00d000" stroke-width="0.9"/>
<path d="M456.2,246.7H462.0M459.1,243.8V249.6" stroke="#00d000" stroke-width="0.9"/>
<path d="M453.7,243.3H459.5M456.6,240.4V246.2" stroke="#00d000" stroke-width="0.9"/>
<path d="M453.3,248.5H459.1M456.2,245.6V251.4" stroke="#00d000" stroke-width="0.9"/>
<path d="M455.4,250.0H461.2M458.3,247.1V252.9" stroke="#00d000" stroke-width="0.9"/>
<path d="M454.9,249.9H460.7M457.8,247.0V252.8" stroke="#00d000" stroke-width="0.9"/>
<path d="M455.0,244.1H460.8M457.9,241.2V247.0" stroke="#00d000" stroke-width="0.9"/>
<path d="M451.4,246.4H457.2M454.3,243.5V249.3" stroke="#00d000" stroke-width="0.9"/>
<path d="M452.7,247.7H458.5M455.6,244.8V250.6" stroke="#00d000" stroke-width="0.9"/>
<path d="M457.9,247.1H463.7M460.8,244.2V250.0" stroke="#00d000" stroke-width="0.9"/>
<path d="M457.5,246.6H463.3M460.4,243.7V249.5" stroke="#00d000" stroke-width="0.9"/>
<path d="M454.9,246.4H460.7M457.8,243.5V249.3" stroke="#00d000" stroke-width="0.9"/>
<path d="M454.4,249.2H460.2M457.3,246.3V252.1" stroke="#00d000" stroke-width="0.9"/>
<path d="M453.1,248.7H458.9M456.0,245.8V251.6" stroke="#00d000" stroke-width="0.9"/>
<path d="M454.7,247.7H460.5M457.6,244.8V250.6" stroke="#00d000" stroke-width="0.9"/>
<path d="M456.1,245.3H461.9M459.0,242.4V248.2" stroke="#00d000" stroke-width="0.9"/>
<ellipse cx="481.0" cy="250.0" rx="4.2" ry="4.1" fill="#00d000"/>
<path d="M475.8,249.6H481.6M478.7,246.7V252.5" stroke="#00d000" stroke-width="0.9"/>
<path d="M479.9,249.2H485.7M482.8,246.3V252.1" stroke="#00d000" stroke-width="0.9"/>
<path d="M479.5,251.5H485.3M482.4,248.6V254.4" stroke="#00d000" stroke-width="0.9"/>
<path d="M475.0,250.1H480.8M477.9,247.2V253.0" stroke="#00d000" stroke-width="0.9"/>
<path d="M478.8,252.3H484.6M481.7,249.4V255.2" stroke="#00d000" stroke-width="0.9"/>
<path d="M479.1,250.3H484.9M482.0,247.4V253.2" stroke="#00d000" stroke-width="0.9"/>
<path d="M477.4,251.0H483.2M480.3,248.1V253.9" stroke="#00d000" stroke-width="0.9"/>
<path d="M479.9,249.7H485.7M482.8,246.8V252.6" stroke="#00d000" stroke-width="0.9"/>
<path d="M478.0,248.3H483.8M480.9,245.4V251.2" stroke="#00d000" stroke-width="0.9"/>
<path d="M479.7,247.3H485.5M482.6,244.4V250.2" stroke="#00d000" stroke-width="0.9"/>
<path d="M475.5,252.0H481.3M478.4,249.1V254.9" stroke="#00d000" stroke-width="0.9"/>
<path d="M478.2,251.7H484.0M481.1,248.8V254.6" stroke="#00d000" stroke-width="0.9"/>
<path d="M479.9,248.4H485.7M482.8,245.5V251.3" stroke="#00d000" stroke-width="0.9"/>
<path d="M479.3,249.2H485.1M482.2,246.3V252.1" stroke="#00d000" stroke-width="0.9"/>
<path d="M478.6,250.5H484.4M481.5,247.6V253.4" stroke="#00d000" stroke-width="0.9"/>
<path d="M477.9,247.2H483.7M480.8,244.3V250.1" stroke="#00d000" stroke-width="0.9"/>
<path d="M478.8,250.0H484.6M481.7,247.1V252.9" stroke="#00d000" stroke-width="0.9"/>
<path d="M479.4,247.8H485.2M482.3,244.9V250.7" stroke="#00d000" stroke-width="0.9"/>
<path d="M478.6,249.6H484.4M481.5,246.7V252.5" stroke="#00d000" stroke-width="0.9"/>
<path d="M477.1,249.4H482.9M480.0,246.5V252.3" stroke="#00d000" stroke-width="0.9"/>
<path d="M477.5,247.1H483.3M480.4,244.2V250.0" stroke="#00d000" stroke-width="0.9"/>
<path d="M476.8,249.0H482.6M479.7,246.1V251.9" stroke="#00d000" stroke-width="0.9"/>
<path d="M479.2,249.7H485.0M482.1,246.8V252.6" stroke="#00d000" stroke-width="0.9"/>
<path d="M481.5,251.3H487.3M484.4,248.4V254.2" stroke="#00d000" stroke-width="0.9"/>
<path d="M478.8,250.4H484.6M481.7,247.5V253.3" stroke="#00d000" stroke-width="0.9"/>
<path d="M474.7,250.8H480.5M477.6,247.9V253.7" stroke="#00d000" stroke-width="0.9"/>
<path d="M481.2,251.3H487.0M484.1,248.4V254.2" stroke="#00d000" stroke-width="0.9"/>
<path d="M478.8,249.1H484.6M481.7,246.2V252.0" stroke="#00d000" stroke-width="0.9"/>
<path d="M478.2,248.3H484.0M481.1,245.4V251.2" stroke="#00d000" stroke-width="0.9"/>
<path d="M478.1,250.1H483.9M481.0,247.2V253.0" stroke="#00d000" stroke-width="0.9"/>
<path d="M478.2,247.4H484.0M481.1,244.5V250.3" stroke="#00d000" stroke-width="0.9"/>
<path d="M480.3,248.6H486.1M483.2,245.7V251.5" stroke="#00d000" stroke-width="0.9"/>
<path d="M479.0,251.2H484.8M481.9,248.3V254.1" stroke="#00d000" stroke-width="0.9"/>
<path d="M478.4,250.9H484.2M481.3,248.0V253.8" stroke="#00d000" stroke-width="0.9"/>
<path d="M477.5,250.7H483.3M480.4,247.8V253.6" stroke="#00d000" stroke-width="0.9"/>
<path d="M475.1,251.4H480.9M478.0,248.5V254.3" stroke="#00d000" stroke-width="0.9"/>
<ellipse cx="461.3" cy="264.5" rx="4.7" ry="6.4" fill="#00d000"/>
<path d="M457.4,262.8H463.2M460.3,259.9V265.7" stroke="#00d000" stroke-width="0.9"/>
<path d="M460.4,267.5H466.2M463.3,264.6V270.4" stroke="#00d000" stroke-width="0.9"/>
<path d="M457.3,261.1H463.1M460.2,258.2V264.0" stroke="#00d000" stroke-width="0.9"/>
<path d="M459.7,266.6H465.5M462.6,263.7V269.5" stroke="#00d000" stroke-width="0.9"/>
<path d="M455.0,264.7H460.8M457.9,261.8V267.6" stroke="#00d000" stroke-width="0.9"/>
<path d="M461.2,262.0H467.0M464.1,259.1V264.9" stroke="#00d000" stroke-width="0.9"/>
<path d="M456.9,261.5H462.7M459.8,258.6V264.4" stroke="#00d000" stroke-width="0.9"/>
<path d="M458.0,266.1H463.8M460.9,263.2V269.0" stroke="#00d000" stroke-width="0.9"/>
<path d="M458.3,267.7H464.1M461.2,264.8V270.6" stroke="#00d000" stroke-width="0.9"/>
<path d="M460.0,262.8H465.8M462.9,259.9V265.7" stroke="#00d000" stroke-width="0.9"/>
<path d="M455.7,261.0H461.5M458.6,258.1V263.9" stroke="#00d000" stroke-width="0.9"/>
<path d="M459.7,264.0H465.5M462.6,261.1V266.9" stroke="#00d000" stroke-width="0.9"/>
<path d="M458.7,261.5H464.5M461.6,258.6V264.4" stroke="#00d000" stroke-width="0.9"/>
<path d="M461.5,267.4H467.3M464.4,264.5V270.3" stroke="#00d000" stroke-width="0.9"/>
<path d="M460.4,260.8H466.2M463.3,257.9V263.7" stroke="#00d000" stroke-width="0.9"/>
<path d="M455.5,267.7H461.3M458.4,264.8V270.6" stroke="#00d000" stroke-width="0.9"/>
<path d="M458.1,261.9H463.9M461.0,259.0V264.8" stroke="#00d000" stroke-width="0.9"/>
<path d="M456.4,266.2H462.2M459.3,263.3V269.1" stroke="#00d000" stroke-width="0.9"/>
<path d="M459.2,265.2H465.0M462.1,262.3V268.1" stroke="#00d000" stroke-width="0.9"/>
<path d="M457.8,261.1H463.6M460.7,258.2V264.0" stroke="#00d000" stroke-width="0.9"/>
<path d="M459.1,263.6H464.9M462.0,260.7V266.5" stroke="#00d000" stroke-width="0.9"/>
<path d="M457.9,266.5H463.7M460.8,263.6V269.4" stroke="#00d000" stroke-width="0.9"/>
<path d="M461.0,262.1H466.8M463.9,259.2V265.0" stroke="#00d000" stroke-width="0.9"/>
<path d="M460.6,266.6H466.4M463.5,263.7V269.5" stroke="#00d000" stroke-width="0.9"/>
<path d="M458.5,265.3H464.3M461.4,262.4V268.2" stroke="#00d000" stroke-width="0.9"/>
<path d="M456.3,263.4H462.1M459.2,260.5V266.3" stroke="#00d000" stroke-width="0.9"/>
<path d="M460.9,267.0H466.7M463.8,264.1V269.9" stroke="#00d000" stroke-width="0.9"/>
<path d="M457.2,264.8H463.0M460.1,261.9V267.7" stroke="#00d000" stroke-width="0.9"/>
<path d="M458.6,262.8H464.4M461.5,259.9V265.7" stroke="#00d000" stroke-width="0.9"/>
<path d="M457.3,264.2H463.1M460.2,261.3V267.1" stroke="#00d000" stroke-width="0.9"/>
<path d="M461.8,264.2H467.6M464.7,261.3V267.1" stroke="#00d000" stroke-width="0.9"/>
<path d="M456.4,265.5H462.2M459.3,262.6V268.4" stroke="#00d000" stroke-width="0.9"/>
<path d="M456.7,265.5H462.5M459.6,262.6V268.4" stroke="#00d000" stroke-width="0.9"/>
<ellipse cx="484.4" cy="265.6" rx="3.7" ry="4.2" fill="#00d000"/>
<path d="M479.3,267.7H485.1M482.2,264.8V270.6" stroke="#00d000" stroke-width="0.9"/>
<path d="M483.2,264.6H489.0M486.1,261.7V267.5" stroke="#00d000" stroke-width="0.9"/>
<path d="M482.5,263.1H488.3M485.4,260.2V266.0" stroke="#00d000" stroke-width="0.9"/>
<path d="M482.0,266.2H487.8M484.9,263.3V269.1" stroke="#00d000" stroke-width="0.9"/>
<path d="M483.7,264.7H489.5M486.6,261.8V267.6" stroke="#00d000" stroke-width="0.9"/>
<path d="M479.2,264.4H485.0M482.1,261.5V267.3" stroke="#00d000" stroke-width="0.9"/>
<path d="M481.4,268.1H487.2M484.3,265.2V271.0" stroke="#00d000" stroke-width="0.9"/>
<path d="M481.7,262.6H487.5M484.6,259.7V265.5" stroke="#00d000" stroke-width="0.9"/>
<path d="M482.5,266.7H488.3M485.4,263.8V269.6" stroke="#00d000" stroke-width="0.9"/>
<path d="M482.4,266.6H488.2M485.3,263.7V269.5" stroke="#00d000" stroke-width="0.9"/>
<path d="M483.5,266.9H489.3M486.4,264.0V269.8" stroke="#00d000" stroke-width="0.9"/>
<path d="M483.7,267.4H489.5M486.6,264.5V270.3" stroke="#00d000" stroke-width="0.9"/>
<path d="M481.5,267.7H487.3M484.4,264.8V270.6" stroke="#00d000" stroke-width="0.9"/>
<path d="M480.0,268.2H485.8M482.9,265.3V271.1" stroke="#00d000" stroke-width="0.9"/>
<path d="M479.9,263.6H485.7M482.8,260.7V266.5" stroke="#00d000" stroke-width="0.9"/>
<path d="M481.1,267.6H486.9M484.0,264.7V270.5" stroke="#00d000" stroke-width="0.9"/>
<path d="M482.3,264.8H488.1M485.2,261.9V267.7" stroke="#00d000" stroke-width="0.9"/>
<path d="M479.6,266.7H485.4M482.5,263.8V269.6" stroke="#00d000" stroke-width="0.9"/>
<path d="M482.6,265.4H488.4M485.5,262.5V268.3" stroke="#00d000" stroke-width="0.9"/>
<path d="M481.5,265.5H487.3M484.4,262.6V268.4" stroke="#00d000" stroke-width="0.9"/>
<path d="M483.2,264.9H489.0M486.1,262.0V267.8" stroke="#00d000" stroke-width="0.9"/>
<path d="M483.4,263.0H489.2M486.3,260.1V265.9" stroke="#00d000" stroke-width="0.9"/>
<path d="M480.6,263.8H486.4M483.5,260.9V266.7" stroke="#00d000" stroke-width="0.9"/>
<path d="M481.2,263.0H487.0M484.1,260.1V265.9" stroke="#00d000" stroke-width="0.9"/>
<path d="M480.8,262.6H486.6M483.7,259.7V265.5" stroke="#00d000" stroke-width="0.9"/>
<path d="M481.9,264.3H487.7M484.8,261.4V267.2" stroke="#00d000" stroke-width="0.9"/>
<path d="M481.4,265.6H487.2M484.3,262.7V268.5" stroke="#00d000" stroke-width="0.9"/>
<path d="M481.8,265.0H487.6M484.7,262.1V267.9" stroke="#00d000" stroke-width="0.9"/>
<ellipse cx="506.6" cy="264.7" rx="3.9" ry="4.5" fill="#00d000"/>
<path d="M501.2,264.1H507.0M504.1,261.2V267.0" stroke="#00d000" stroke-width="0.9"/>
<path d="M504.8,265.8H510.6M507.7,262.9V268.7" stroke="#00d000" stroke-width="0.9"/>
<path d="M502.4,262.8H508.2M505.3,259.9V265.7" stroke="#00d000" stroke-width="0.9"/>
<path d="M502.7,263.4H508.5M505.6,260.5V266.3" stroke="#00d000" stroke-width="0.9"/>
<path d="M503.7,265.0H509.5M506.6,262.1V267.9" stroke="#00d000" stroke-width="0.9"/>
<path d="M502.1,262.1H507.9M505.0,259.2V265.0" stroke="#00d000" stroke-width="0.9"/>
<path d="M503.6,261.9H509.4M506.5,259.0V264.8" stroke="#00d000" stroke-width="0.9"/>
<path d="M502.0,265.5H507.8M504.9,262.6V268.4" stroke="#00d000" stroke-width="0.9"/>
<path d="M503.5,262.4H509.3M506.4,259.5V265.3" stroke="#00d000" stroke-width="0.9"/>
<path d="M505.3,265.4H511.1M508.2,262.5V268.3" stroke="#00d000" stroke-width="0.9"/>
<path d="M504.4,263.6H510.2M507.3,260.7V266.5" stroke="#00d000" stroke-width="0.9"/>
<path d="M504.1,264.8H509.9M507.0,261.9V267.7" stroke="#00d000" stroke-width="0.9"/>
<path d="M503.8,263.6H509.6M506.7,260.7V266.5" stroke="#00d000" stroke-width="0.9"/>
<path d="M501.4,265.4H507.2M504.3,262.5V268.3" stroke="#00d000" stroke-width="0.9"/>
<path d="M504.5,262.2H510.3M507.4,259.3V265.1" stroke="#00d000" stroke-width="0.9"/>
<path d="M503.2,264.6H509.0M506.1,261.7V267.5" stroke="#00d000" stroke-width="0.9"/>
<path d="M505.5,262.1H511.3M508.4,259.2V265.0" stroke="#00d000" stroke-width="0.9"/>
<path d="M505.2,264.6H511.0M508.1,261.7V267.5" stroke="#00d000" stroke-width="0.9"/>
<path d="M505.6,265.6H511.4M508.5,262.7V268.5" stroke="#00d000" stroke-width="0.9"/>
<path d="M505.4,266.0H511.2M508.3,263.1V268.9" stroke="#00d000" stroke-width="0.9"/>
<path d="M505.0,265.6H510.8M507.9,262.7V268.5" stroke="#00d000" stroke-width="0.9"/>
<path d="M506.1,264.8H511.9M509.0,261.9V267.7" stroke="#00d000" stroke-width="0.9"/>
<path d="M502.7,265.6H508.5M505.6,262.7V268.5" stroke="#00d000" stroke-width="0.9"/>
<path d="M503.1,263.2H508.9M506.0,260.3V266.1" stroke="#00d000" stroke-width="0.9"/>
<path d="M501.7,266.2H507.5M504.6,263.3V269.1" stroke="#00d000" stroke-width="0.9"/>
<path d="M503.3,265.0H509.1M506.2,262.1V267.9" stroke="#00d000" stroke-width="0.9"/>
<ellipse cx="495.2" cy="279.0" rx="3.5" ry="5.2" fill="#00d000"/>
<path d="M492.9,276.2H498.7M495.8,273.3V279.1" stroke="#00d000" stroke-width="0.9"/>
<path d="M490.7,275.6H496.5M493.6,272.7V278.5" stroke="#00d000" stroke-width="0.9"/>
<path d="M491.1,279.6H496.9M494.0,276.7V282.5" stroke="#00d000" stroke-width="0.9"/>
<path d="M491.6,280.8H497.4M494.5,277.9V283.7" stroke="#00d000" stroke-width="0.9"/>
<path d="M493.2,282.2H499.0M496.1,279.3V285.1" stroke="#00d000" stroke-width="0.9"/>
<path d="M493.3,276.8H499.1M496.2,273.9V279.7" stroke="#00d000" stroke-width="0.9"/>
<path d="M494.6,281.1H500.4M497.5,278.2V284.0" stroke="#00d000" stroke-width="0.9"/>
<path d="M491.6,280.2H497.4M494.5,277.3V283.1" stroke="#00d000" stroke-width="0.9"/>
<path d="M492.2,279.3H498.0M495.1,276.4V282.2" stroke="#00d000" stroke-width="0.9"/>
<path d="M493.6,281.3H499.4M496.5,278.4V284.2" stroke="#00d000" stroke-width="0.9"/>
<path d="M492.5,279.2H498.3M495.4,276.3V282.1" stroke="#00d000" stroke-width="0.9"/>
<path d="M493.2,276.9H499.0M496.1,274.0V279.8" stroke="#00d000" stroke-width="0.9"/>
<path d="M493.0,278.5H498.8M495.9,275.6V281.4" stroke="#00d000" stroke-width="0.9"/>
<path d="M492.4,279.3H498.2M495.3,276.4V282.2" stroke="#00d000" stroke-width="0.9"/>
<path d="M494.8,280.3H500.6M497.7,277.4V283.2" stroke="#00d000" stroke-width="0.9"/>
<path d="M492.4,275.9H498.2M495.3,273.0V278.8" stroke="#00d000" stroke-width="0.9"/>
<path d="M493.0,276.2H498.8M495.9,273.3V279.1" stroke="#00d000" stroke-width="0.9"/>
<path d="M494.7,277.2H500.5M497.6,274.3V280.1" stroke="#00d000" stroke-width="0.9"/>
<path d="M491.1,278.6H496.9M494.0,275.7V281.5" stroke="#00d000" stroke-width="0.9"/>
<path d="M490.4,280.3H496.2M493.3,277.4V283.2" stroke="#00d000" stroke-width="0.9"/>
<path d="M492.9,277.2H498.7M495.8,274.3V280.1" stroke="#00d000" stroke-width="0.9"/>
<path d="M494.6,280.5H500.4M497.5,277.6V283.4" stroke="#00d000" stroke-width="0.9"/>
<path d="M492.9,283.0H498.7M495.8,280.1V285.9" stroke="#00d000" stroke-width="0.9"/>
<path d="M491.6,278.3H497.4M494.5,275.4V281.2" stroke="#00d000" stroke-width="0.9"/>
<path d="M492.0,276.2H497.8M494.9,273.3V279.1" stroke="#00d000" stroke-width="0.9"/>
<path d="M492.6,276.7H498.4M495.5,273.8V279.6" stroke="#00d000" stroke-width="0.9"/>
<path d="M491.8,277.7H497.6M494.7,274.8V280.6" stroke="#00d000" stroke-width="0.9"/>
<path d="M491.5,278.9H497.3M494.4,276.0V281.8" stroke="#00d000" stroke-width="0.9"/>
<path d="M491.9,278.4H497.7M494.8,275.5V281.3" stroke="#00d000" stroke-width="0.9"/>
<path d="M490.0,278.7H495.8M492.9,275.8V281.6" stroke="#00d000" stroke-width="0.9"/>
<path d="M491.2,279.6H497.0M494.1,276.7V282.5" stroke="#00d000" stroke-width="0.9"/>
<path d="M491.9,282.0H497.7M494.8,279.1V284.9" stroke="#00d000" stroke-width="0.9"/>
<path d="M492.4,281.3H498.2M495.3,278.4V284.2" stroke="#00d000" stroke-width="0.9"/>
<ellipse cx="467.8" cy="288.0" rx="3.9" ry="6.2" fill="#00d000"/>
<path d="M466.5,289.5H472.3M469.4,286.6V292.4" stroke="#00d000" stroke-width="0.9"/>
<path d="M466.6,286.9H472.4M469.5,284.0V289.8" stroke="#00d000" stroke-width="0.9"/>
<path d="M466.6,289.7H472.4M469.5,286.8V292.6" stroke="#00d000" stroke-width="0.9"/>
<path d="M465.8,287.5H471.6M468.7,284.6V290.4" stroke="#00d000" stroke-width="0.9"/>
<path d="M464.0,289.9H469.8M466.9,287.0V292.8" stroke="#00d000" stroke-width="0.9"/>
<path d="M463.8,284.7H469.6M466.7,281.8V287.6" stroke="#00d000" stroke-width="0.9"/>
<path d="M463.3,292.4H469.1M466.2,289.5V295.3" stroke="#00d000" stroke-width="0.9"/>
<path d="M466.4,288.8H472.2M469.3,285.9V291.7" stroke="#00d000" stroke-width="0.9"/>
<path d="M464.5,290.5H470.3M467.4,287.6V293.4" stroke="#00d000" stroke-width="0.9"/>
<path d="M466.1,284.5H471.9M469.0,281.6V287.4" stroke="#00d000" stroke-width="0.9"/>
<path d="M463.4,291.2H469.2M466.3,288.3V294.1" stroke="#00d000" stroke-width="0.9"/>
<path d="M466.6,284.5H472.4M469.5,281.6V287.4" stroke="#00d000" stroke-width="0.9"/>
<path d="M461.7,289.4H467.5M464.6,286.5V292.3" stroke="#00d000" stroke-width="0.9"/>
<path d="M463.2,285.8H469.0M466.1,282.9V288.7" stroke="#00d000" stroke-width="0.9"/>
<path d="M463.8,288.8H469.6M466.7,285.9V291.7" stroke="#00d000" stroke-width="0.9"/>
<path d="M464.2,290.9H470.0M467.1,288.0V293.8" stroke="#00d000" stroke-width="0.9"/>
<path d="M462.5,285.4H468.3M465.4,282.5V288.3" stroke="#00d000" stroke-width="0.9"/>
<path d="M466.0,291.2H471.8M468.9,288.3V294.1" stroke="#00d000" stroke-width="0.9"/>
<path d="M464.8,287.1H470.6M467.7,284.2V290.0" stroke="#00d000" stroke-width="0.9"/>
<path d="M465.6,287.3H471.4M468.5,284.4V290.2" stroke="#00d000" stroke-width="0.9"/>
<path d="M467.7,290.2H473.5M470.6,287.3V293.1" stroke="#00d000" stroke-width="0.9"/>
<path d="M464.2,292.7H470.0M467.1,289.8V295.6" stroke="#00d000" stroke-width="0.9"/>
<path d="M467.4,288.8H473.2M470.3,285.9V291.7" stroke="#00d000" stroke-width="0.9"/>
<path d="M466.0,290.5H471.8M468.9,287.6V293.4" stroke="#00d000" stroke-width="0.9"/>
<path d="M464.0,284.3H469.8M466.9,281.4V287.2" stroke="#00d000" stroke-width="0.9"/>
<path d="M466.0,291.3H471.8M468.9,288.4V294.2" stroke="#00d000" stroke-width="0.9"/>
<path d="M463.6,292.2H469.4M466.5,289.3V295.1" stroke="#00d000" stroke-width="0.9"/>
<path d="M466.1,288.0H471.9M469.0,285.1V290.9" stroke="#00d000" stroke-width="0.9"/>
<path d="M464.8,282.7H470.6M467.7,279.8V285.6" stroke="#00d000" stroke-width="0.9"/>
<path d="M463.1,288.7H468.9M466.0,285.8V291.6" stroke="#00d000" stroke-width="0.9"/>
<path d="M519.3,209.6 L532.5,216.5 L532.5,218.5 L525.2,226.1 L520.3,221.3 Z" fill="#00d000"/>
<path d="M519.1,214.0H524.9M522.0,211.1V216.9" stroke="#00d000" stroke-width="0.9"/>
<path d="M522.1,219.0H527.9M525.0,216.1V221.9" stroke="#00d000" stroke-width="0.9"/>
<path d="M525.1,217.0H530.9M528.0,214.1V219.9" stroke="#00d000" stroke-width="0.9"/>
<path d="M520.1,222.0H525.9M523.0,219.1V224.9" stroke="#00d000" stroke-width="0.9"/>
<path d="M518.1,211.0H523.9M521.0,208.1V213.9" stroke="#00d000" stroke-width="0.9"/>
<path d="M524.1,221.0H529.9M527.0,218.1V223.9" stroke="#00d000" stroke-width="0.9"/>
<ellipse cx="570.3" cy="144.2" rx="2.3" ry="2.8" fill="#00d000"/>
<path d="M568.4,145.7H573.6M571.0,143.1V148.3" stroke="#00d000" stroke-width="0.9"/>
<path d="M569.1,143.5H574.3M571.7,140.9V146.1" stroke="#00d000" stroke-width="0.9"/>
<path d="M567.6,146.5H572.8M570.2,143.9V149.1" stroke="#00d000" stroke-width="0.9"/>
<path d="M565.7,145.1H570.9M568.3,142.5V147.7" stroke="#00d000" stroke-width="0.9"/>
<path d="M566.5,144.6H571.7M569.1,142.0V147.2" stroke="#00d000" stroke-width="0.9"/>
<path d="M570.5,144.9H575.7M573.1,142.3V147.5" stroke="#00d000" stroke-width="0.9"/>
<path d="M567.1,143.1H572.3M569.7,140.5V145.7" stroke="#00d000" stroke-width="0.9"/>
<path d="M565.6,144.2H570.8M568.2,141.6V146.8" stroke="#00d000" stroke-width="0.9"/>
<path d="M564.3,144.1H569.5M566.9,141.5V146.7" stroke="#00d000" stroke-width="0.9"/>
<path d="M567.9,142.8H573.1M570.5,140.2V145.4" stroke="#00d000" stroke-width="0.9"/>
<path d="M566.6,146.2H571.8M569.2,143.6V148.8" stroke="#00d000" stroke-width="0.9"/>
<path d="M569.6,147.5H574.8M572.2,144.9V150.1" stroke="#00d000" stroke-width="0.9"/>
<path d="M569.5,144.8H574.7M572.1,142.2V147.4" stroke="#00d000" stroke-width="0.9"/>
<path d="M567.4,146.2H572.6M570.0,143.6V148.8" stroke="#00d000" stroke-width="0.9"/>
<path d="M568.8,144.5H574.0M571.4,141.9V147.1" stroke="#00d000" stroke-width="0.9"/>
<path d="M570.4,144.0H575.6M573.0,141.4V146.6" stroke="#00d000" stroke-width="0.9"/>
<path d="M568.0,146.0H573.2M570.6,143.4V148.6" stroke="#00d000" stroke-width="0.9"/>
<path d="M568.5,144.4H573.7M571.1,141.8V147.0" stroke="#00d000" stroke-width="0.9"/>
<path d="M569.3,148.7H574.5M571.9,146.1V151.3" stroke="#00d000" stroke-width="0.9"/>
<path d="M567.3,145.4H572.5M569.9,142.8V148.0" stroke="#00d000" stroke-width="0.9"/>
<path d="M568.4,144.5H573.6M571.0,141.9V147.1" stroke="#00d000" stroke-width="0.9"/>
<path d="M570.3,144.1H575.5M572.9,141.5V146.7" stroke="#00d000" stroke-width="0.9"/>
<path d="M589.3,143.3 L591.5,146.5 L593.3,152 L593.3,158.5 L582.4,158.5 L582.6,153 L585.5,147 L588,145 Z" fill="#f50505" stroke="#f50505" stroke-width="0.6" stroke-linejoin="round"/>
<path d="M590.2,152.2 L593.1,157.3 L587.4,157.3 Z" fill="none" stroke="#e8141b" stroke-width="0.75"/>
<path d="M589.5,146.7 L592.3,151.8 L586.6,151.8 Z" fill="none" stroke="#e8141b" stroke-width="0.75"/>
<path d="M586.0,146.8 L588.8,151.9 L583.1,151.9 Z" fill="none" stroke="#e8141b" stroke-width="0.75"/>
<path d="M585.4,145.9 L588.2,151.0 L582.5,151.0 Z" fill="none" stroke="#e8141b" stroke-width="0.75"/>
<path d="M589.1,148.9 L592.0,154.0 L586.3,154.0 Z" fill="none" stroke="#e8141b" stroke-width="0.75"/>
<path d="M585.1,147.1 L587.9,152.2 L582.2,152.2 Z" fill="none" stroke="#e8141b" stroke-width="0.75"/>
<path d="M589.8,152.3 L592.7,157.4 L587.0,157.4 Z" fill="none" stroke="#e8141b" stroke-width="0.75"/>
<path d="M589.2,151.2 L592.0,156.3 L586.3,156.3 Z" fill="none" stroke="#e8141b" stroke-width="0.75"/>
<path d="M590.2,149.5 L593.0,154.6 L587.3,154.6 Z" fill="none" stroke="#e8141b" stroke-width="0.75"/>
<path d="M587.2,149.7 L590.0,154.8 L584.3,154.8 Z" fill="none" stroke="#e8141b" stroke-width="0.75"/>
<path d="M574.5,168.2 L578.5,167.9 L581.3,171.5 L581.3,180 L571.2,180 L571.2,172 Z" fill="#f50505" stroke="#f50505" stroke-width="0.6" stroke-linejoin="round"/>
<path d="M575.2,169.1 L578.0,174.2 L572.3,174.2 Z" fill="none" stroke="#e8141b" stroke-width="0.75"/>
<path d="M575.1,171.8 L577.9,176.9 L572.2,176.9 Z" fill="none" stroke="#e8141b" stroke-width="0.75"/>
<path d="M574.4,169.4 L577.2,174.5 L571.5,174.5 Z" fill="none" stroke="#e8141b" stroke-width="0.75"/>
<path d="M575.0,171.2 L577.9,176.3 L572.2,176.3 Z" fill="none" stroke="#e8141b" stroke-width="0.75"/>
<path d="M578.5,172.0 L581.3,177.1 L575.6,177.1 Z" fill="none" stroke="#e8141b" stroke-width="0.75"/>
<path d="M577.9,173.6 L580.8,178.7 L575.1,178.7 Z" fill="none" stroke="#e8141b" stroke-width="0.75"/>
<path d="M576.7,170.9 L579.6,176.0 L573.9,176.0 Z" fill="none" stroke="#e8141b" stroke-width="0.75"/>
<path d="M575.7,170.9 L578.6,176.0 L572.9,176.0 Z" fill="none" stroke="#e8141b" stroke-width="0.75"/>
<path d="M576.9,174.3 L579.8,179.4 L574.1,179.4 Z" fill="none" stroke="#e8141b" stroke-width="0.75"/>
<path d="M577.7,170.7 L580.5,175.8 L574.8,175.8 Z" fill="none" stroke="#e8141b" stroke-width="0.75"/>
<path d="M604.5,173.5 L608.5,173.5 L611.8,177.5 L611.8,186.6 L600.8,186.6 L600.8,178 Z" fill="#f50505" stroke="#f50505" stroke-width="0.6" stroke-linejoin="round"/>
<path d="M604.3,174.5 L607.1,179.6 L601.4,179.6 Z" fill="none" stroke="#e8141b" stroke-width="0.75"/>
<path d="M606.8,176.1 L609.6,181.2 L603.9,181.2 Z" fill="none" stroke="#e8141b" stroke-width="0.75"/>
<path d="M603.4,176.7 L606.3,181.8 L600.6,181.8 Z" fill="none" stroke="#e8141b" stroke-width="0.75"/>
<path d="M604.7,176.0 L607.6,181.1 L601.9,181.1 Z" fill="none" stroke="#e8141b" stroke-width="0.75"/>
<path d="M607.3,178.8 L610.1,183.9 L604.4,183.9 Z" fill="none" stroke="#e8141b" stroke-width="0.75"/>
<path d="M605.0,179.9 L607.9,185.0 L602.2,185.0 Z" fill="none" stroke="#e8141b" stroke-width="0.75"/>
<path d="M604.6,181.3 L607.4,186.4 L601.7,186.4 Z" fill="none" stroke="#e8141b" stroke-width="0.75"/>
<path d="M604.1,178.8 L606.9,183.9 L601.2,183.9 Z" fill="none" stroke="#e8141b" stroke-width="0.75"/>
<path d="M607.5,179.9 L610.3,185.0 L604.6,185.0 Z" fill="none" stroke="#e8141b" stroke-width="0.75"/>
<path d="M606.2,180.9 L609.1,186.0 L603.4,186.0 Z" fill="none" stroke="#e8141b" stroke-width="0.75"/>
<path d="M577.5,191.3 L582,191.3 L585.6,195.5 L585.6,203.5 L583,206 L575,206 L574,196 Z" fill="#f50505" stroke="#f50505" stroke-width="0.6" stroke-linejoin="round"/>
<path d="M580.6,198.5 L583.5,203.6 L577.8,203.6 Z" fill="none" stroke="#e8141b" stroke-width="0.75"/>
<path d="M577.1,193.9 L580.0,199.0 L574.3,199.0 Z" fill="none" stroke="#e8141b" stroke-width="0.75"/>
<path d="M579.6,197.2 L582.4,202.3 L576.7,202.3 Z" fill="none" stroke="#e8141b" stroke-width="0.75"/>
<path d="M577.2,198.9 L580.1,204.0 L574.4,204.0 Z" fill="none" stroke="#e8141b" stroke-width="0.75"/>
<path d="M578.8,196.5 L581.7,201.6 L576.0,201.6 Z" fill="none" stroke="#e8141b" stroke-width="0.75"/>
<path d="M579.9,199.8 L582.8,204.9 L577.1,204.9 Z" fill="none" stroke="#e8141b" stroke-width="0.75"/>
<path d="M578.5,197.3 L581.4,202.4 L575.7,202.4 Z" fill="none" stroke="#e8141b" stroke-width="0.75"/>
<path d="M580.5,198.1 L583.3,203.2 L577.6,203.2 Z" fill="none" stroke="#e8141b" stroke-width="0.75"/>
<path d="M578.6,194.8 L581.4,199.9 L575.7,199.9 Z" fill="none" stroke="#e8141b" stroke-width="0.75"/>
<path d="M579.6,197.7 L582.5,202.8 L576.8,202.8 Z" fill="none" stroke="#e8141b" stroke-width="0.75"/>
<path d="M596.6,130.8 L599.5,136.0 L593.8,136.0 Z" fill="none" stroke="#e8141b" stroke-width="0.75"/>
<path d="M616.1,149.4 L619.0,154.6 L613.2,154.6 Z" fill="none" stroke="#e8141b" stroke-width="0.75"/>
<path d="M616.1,154.1 L619.0,159.2 L613.2,159.2 Z" fill="none" stroke="#e8141b" stroke-width="0.75"/>
<path d="M615.4,157.0 L618.2,162.2 L612.5,162.2 Z" fill="none" stroke="#e8141b" stroke-width="0.75"/>
<path d="M597.8,177.8 L600.6,182.9 L594.9,182.9 Z" fill="none" stroke="#e8141b" stroke-width="0.75"/>
<path d="M596.8,179.8 L599.6,185.0 L593.9,185.0 Z" fill="none" stroke="#e8141b" stroke-width="0.75"/>
<path d="M600.0,182.1 L602.9,187.2 L597.1,187.2 Z" fill="none" stroke="#e8141b" stroke-width="0.75"/>
<path d="M611.0,173.4 L613.9,178.6 L608.1,178.6 Z" fill="none" stroke="#e8141b" stroke-width="0.75"/>
<path d="M582.5,202.9 L585.4,208.1 L579.6,208.1 Z" fill="none" stroke="#e8141b" stroke-width="0.75"/>
<path d="M589.3,142.4 L592.1,147.6 L586.4,147.6 Z" fill="none" stroke="#e8141b" stroke-width="0.75"/>
<ellipse cx="634.7" cy="109.0" rx="4.42" ry="5.72" fill="#050505"/>
<circle cx="634.2" cy="108.2" r="2.05" fill="none" stroke="#1a1a1a" stroke-width="1.0"/>
<circle cx="632.8" cy="109.8" r="2.05" fill="none" stroke="#1a1a1a" stroke-width="1.0"/>
<circle cx="634.9" cy="109.9" r="2.05" fill="none" stroke="#1a1a1a" stroke-width="1.0"/>
<circle cx="635.0" cy="108.8" r="2.05" fill="none" stroke="#1a1a1a" stroke-width="1.0"/>
<circle cx="633.4" cy="109.0" r="2.05" fill="none" stroke="#1a1a1a" stroke-width="1.0"/>
<circle cx="635.9" cy="109.3" r="2.05" fill="none" stroke="#1a1a1a" stroke-width="1.0"/>
<circle cx="635.5" cy="110.7" r="2.05" fill="none" stroke="#1a1a1a" stroke-width="1.0"/>
<circle cx="635.2" cy="108.6" r="2.05" fill="none" stroke="#1a1a1a" stroke-width="1.0"/>
<circle cx="633.3" cy="111.4" r="2.05" fill="none" stroke="#1a1a1a" stroke-width="1.0"/>
<circle cx="634.5" cy="108.7" r="2.05" fill="none" stroke="#1a1a1a" stroke-width="1.0"/>
<circle cx="634.9" cy="110.6" r="2.05" fill="none" stroke="#1a1a1a" stroke-width="1.0"/>
<circle cx="636.0" cy="107.7" r="2.05" fill="none" stroke="#1a1a1a" stroke-width="1.0"/>
<circle cx="634.6" cy="111.2" r="2.05" fill="none" stroke="#1a1a1a" stroke-width="1.0"/>
<circle cx="633.8" cy="109.1" r="2.05" fill="none" stroke="#1a1a1a" stroke-width="1.0"/>
<circle cx="633.5" cy="106.3" r="2.05" fill="none" stroke="#1a1a1a" stroke-width="1.0"/>
<circle cx="632.8" cy="109.3" r="2.05" fill="none" stroke="#1a1a1a" stroke-width="1.0"/>
<circle cx="634.3" cy="108.6" r="2.05" fill="none" stroke="#1a1a1a" stroke-width="1.0"/>
<ellipse cx="644.2" cy="146.3" rx="4.42" ry="6.86" fill="#050505"/>
<circle cx="641.9" cy="146.2" r="2.05" fill="none" stroke="#1a1a1a" stroke-width="1.0"/>
<circle cx="643.0" cy="149.4" r="2.05" fill="none" stroke="#1a1a1a" stroke-width="1.0"/>
<circle cx="642.7" cy="148.7" r="2.05" fill="none" stroke="#1a1a1a" stroke-width="1.0"/>
<circle cx="642.4" cy="144.0" r="2.05" fill="none" stroke="#1a1a1a" stroke-width="1.0"/>
<circle cx="646.4" cy="144.6" r="2.05" fill="none" stroke="#1a1a1a" stroke-width="1.0"/>
<circle cx="643.6" cy="142.8" r="2.05" fill="none" stroke="#1a1a1a" stroke-width="1.0"/>
<circle cx="644.5" cy="149.5" r="2.05" fill="none" stroke="#1a1a1a" stroke-width="1.0"/>
<circle cx="643.8" cy="145.7" r="2.05" fill="none" stroke="#1a1a1a" stroke-width="1.0"/>
<circle cx="644.2" cy="144.6" r="2.05" fill="none" stroke="#1a1a1a" stroke-width="1.0"/>
<circle cx="642.3" cy="146.4" r="2.05" fill="none" stroke="#1a1a1a" stroke-width="1.0"/>
<circle cx="643.7" cy="142.4" r="2.05" fill="none" stroke="#1a1a1a" stroke-width="1.0"/>
<circle cx="642.3" cy="147.4" r="2.05" fill="none" stroke="#1a1a1a" stroke-width="1.0"/>
<circle cx="645.6" cy="146.2" r="2.05" fill="none" stroke="#1a1a1a" stroke-width="1.0"/>
<circle cx="643.3" cy="140.6" r="2.05" fill="none" stroke="#1a1a1a" stroke-width="1.0"/>
<circle cx="646.5" cy="148.4" r="2.05" fill="none" stroke="#1a1a1a" stroke-width="1.0"/>
<circle cx="643.1" cy="143.9" r="2.05" fill="none" stroke="#1a1a1a" stroke-width="1.0"/>
<circle cx="645.0" cy="141.8" r="2.05" fill="none" stroke="#1a1a1a" stroke-width="1.0"/>
<ellipse cx="695.9" cy="140.8" rx="4.08" ry="5.54" fill="#050505"/>
<circle cx="696.9" cy="142.5" r="2.05" fill="none" stroke="#1a1a1a" stroke-width="1.0"/>
<circle cx="694.2" cy="138.9" r="2.05" fill="none" stroke="#1a1a1a" stroke-width="1.0"/>
<circle cx="698.4" cy="139.9" r="2.05" fill="none" stroke="#1a1a1a" stroke-width="1.0"/>
<circle cx="696.1" cy="140.2" r="2.05" fill="none" stroke="#1a1a1a" stroke-width="1.0"/>
<circle cx="698.2" cy="139.7" r="2.05" fill="none" stroke="#1a1a1a" stroke-width="1.0"/>
<circle cx="694.7" cy="143.6" r="2.05" fill="none" stroke="#1a1a1a" stroke-width="1.0"/>
<circle cx="693.8" cy="140.2" r="2.05" fill="none" stroke="#1a1a1a" stroke-width="1.0"/>
<circle cx="694.0" cy="137.9" r="2.05" fill="none" stroke="#1a1a1a" stroke-width="1.0"/>
<circle cx="694.2" cy="140.9" r="2.05" fill="none" stroke="#1a1a1a" stroke-width="1.0"/>
<circle cx="694.9" cy="138.8" r="2.05" fill="none" stroke="#1a1a1a" stroke-width="1.0"/>
<circle cx="695.2" cy="142.8" r="2.05" fill="none" stroke="#1a1a1a" stroke-width="1.0"/>
<circle cx="696.8" cy="141.1" r="2.05" fill="none" stroke="#1a1a1a" stroke-width="1.0"/>
<circle cx="696.9" cy="140.1" r="2.05" fill="none" stroke="#1a1a1a" stroke-width="1.0"/>
<circle cx="695.1" cy="144.1" r="2.05" fill="none" stroke="#1a1a1a" stroke-width="1.0"/>
<circle cx="696.0" cy="143.6" r="2.05" fill="none" stroke="#1a1a1a" stroke-width="1.0"/>
<ellipse cx="667.6" cy="191.6" rx="4.17" ry="5.28" fill="#050505"/>
<circle cx="664.8" cy="190.0" r="2.05" fill="none" stroke="#1a1a1a" stroke-width="1.0"/>
<circle cx="666.3" cy="191.8" r="2.05" fill="none" stroke="#1a1a1a" stroke-width="1.0"/>
<circle cx="667.5" cy="193.3" r="2.05" fill="none" stroke="#1a1a1a" stroke-width="1.0"/>
<circle cx="668.3" cy="191.6" r="2.05" fill="none" stroke="#1a1a1a" stroke-width="1.0"/>
<circle cx="668.4" cy="192.9" r="2.05" fill="none" stroke="#1a1a1a" stroke-width="1.0"/>
<circle cx="666.9" cy="192.7" r="2.05" fill="none" stroke="#1a1a1a" stroke-width="1.0"/>
<circle cx="667.0" cy="194.0" r="2.05" fill="none" stroke="#1a1a1a" stroke-width="1.0"/>
<circle cx="666.9" cy="191.7" r="2.05" fill="none" stroke="#1a1a1a" stroke-width="1.0"/>
<circle cx="666.4" cy="191.4" r="2.05" fill="none" stroke="#1a1a1a" stroke-width="1.0"/>
<circle cx="669.2" cy="194.1" r="2.05" fill="none" stroke="#1a1a1a" stroke-width="1.0"/>
<circle cx="668.8" cy="192.8" r="2.05" fill="none" stroke="#1a1a1a" stroke-width="1.0"/>
<circle cx="667.8" cy="189.4" r="2.05" fill="none" stroke="#1a1a1a" stroke-width="1.0"/>
<circle cx="668.5" cy="190.5" r="2.05" fill="none" stroke="#1a1a1a" stroke-width="1.0"/>
<circle cx="668.0" cy="191.4" r="2.05" fill="none" stroke="#1a1a1a" stroke-width="1.0"/>
<circle cx="668.8" cy="190.4" r="2.05" fill="none" stroke="#1a1a1a" stroke-width="1.0"/>
<circle cx="668.7" cy="191.6" r="2.05" fill="none" stroke="#1a1a1a" stroke-width="1.0"/>
<circle cx="669.9" cy="191.4" r="2.05" fill="none" stroke="#1a1a1a" stroke-width="1.0"/>
<circle cx="636.4" cy="103.4" r="2.05" fill="none" stroke="#1a1a1a" stroke-width="0.75"/>
<circle cx="630.7" cy="106.6" r="2.05" fill="none" stroke="#1a1a1a" stroke-width="0.75"/>
<circle cx="638.5" cy="108.8" r="2.05" fill="none" stroke="#1a1a1a" stroke-width="0.75"/>
<circle cx="634.9" cy="114.0" r="2.05" fill="none" stroke="#1a1a1a" stroke-width="0.75"/>
<circle cx="646.6" cy="158.1" r="2.05" fill="none" stroke="#1a1a1a" stroke-width="1.0"/>
<circle cx="660.6" cy="143.4" r="2.05" fill="none" stroke="#1a1a1a" stroke-width="0.75"/>
<circle cx="659.4" cy="149.1" r="2.05" fill="none" stroke="#1a1a1a" stroke-width="0.75"/>
<circle cx="665.0" cy="186.7" r="2.05" fill="none" stroke="#1a1a1a" stroke-width="0.75"/>
<circle cx="670.1" cy="186.3" r="2.05" fill="none" stroke="#1a1a1a" stroke-width="0.75"/>
<circle cx="664.6" cy="196.2" r="2.05" fill="none" stroke="#1a1a1a" stroke-width="0.75"/>
<circle cx="671.2" cy="196.5" r="2.05" fill="none" stroke="#1a1a1a" stroke-width="0.75"/>
<circle cx="663.1" cy="190.3" r="2.05" fill="none" stroke="#1a1a1a" stroke-width="0.75"/>
<circle cx="671.9" cy="190.3" r="2.05" fill="none" stroke="#1a1a1a" stroke-width="0.75"/>
<path d="M454.7,97.5 L457.6,102.5 L451.8,102.5 Z" fill="none" stroke="#333" stroke-width="0.75"/>
<path d="M549.7,197.8 L552.6,202.9 L546.9,202.9 Z" fill="none" stroke="#333" stroke-width="0.75"/>
<path d="M467.5,75.3 L469.4,77.4 L466.3,79.9 L467.5,84.1 L474.2,84.5 L466.9,84.7 L463.9,86.6 L463.3,89.6 L460.8,89.6 L460.2,94.5 L456.6,95.1 L458.4,99.4 L457.8,103.6 L460.8,104.2 L457.8,104.6 L445.5,111.2" fill="none" stroke="#333" stroke-width="0.9" stroke-linejoin="round"/>
<path d="M498.6,75.3 L491.9,84.1 L483.4,87.8 L482.2,95.7 L480.9,100.6 L474.2,116.4 L478.5,121.9 L477.9,120.5 L474.9,126.7 L461.4,127.3 L451.1,141.9 L452.3,150.5 L454.1,170.0 L454.7,172.9 L461.4,180.8 L456.0,186.3 L457.8,197.9 L458.6,197.9 L456.6,202.8 L453.7,206.7 L450.8,209.6 L448.8,213.5 L447.9,219.3 L446.9,225.2 L446.4,227.1 L445.5,227.5" fill="none" stroke="#333" stroke-width="0.9" stroke-linejoin="round"/>
<path d="M598.4,75.3 L596.6,83.5 L601.5,91.6" fill="none" stroke="#333" stroke-width="0.9" stroke-linejoin="round"/>
<path d="M616.1,100.6 L606.9,92.1 L588.0,92.1 L583.8,90.6 L578.3,94.5 L568.3,101.8 L568.8,103.8 L565.4,111.1 L568.8,117.9 L562.5,126.1 L556.4,130.5 L548.0,135.2 L544.2,138.3 L532.0,144.4 L526.6,150.5 L518.1,156.6 L520.5,161.4 L519.3,165.0 L518.1,171.1 L515.7,172.9 L516.3,177.2 L516.9,189.4 L519.3,192.4 L532.0,201.0 L538.1,208.3 L535.7,212.5 L532.5,217.4 L525.2,226.1 L521.3,224.2 L514.5,229.1 L508.6,231.5 L510.5,233.4 L508.8,236.0 L510.5,241.1 L508.8,246.6 L509.3,250.4 L508.0,255.5 L507.9,258.0 L503.9,271.4 L498.5,281.5 L485.2,281.5 L480.5,286.1 L481.1,292.8 L463.7,294.2 L461.7,286.1 L459.1,278.8 L461.7,274.1 L461.1,270.1 L455.7,262.0 L452.7,257.8 L449.8,253.4 L448.4,246.6 L447.4,242.7 L449.3,241.7 L448.8,240.3 L446.9,239.3 L445.5,236.0" fill="none" stroke="#333" stroke-width="0.9" stroke-linejoin="round"/>
<path d="M502.3,215.9 L512.5,215.0 L520.3,214.0 L532.5,217.4" fill="none" stroke="#333" stroke-width="0.9" stroke-linejoin="round"/>
<path d="M502.3,216.8 L512.5,217.6 L519.3,218.8 L523.0,219.2" fill="none" stroke="#333" stroke-width="0.9" stroke-linejoin="round"/>
<path d="M519.3,209.6 L526.0,226.3" fill="none" stroke="#333" stroke-width="0.9" stroke-linejoin="round"/>
<path d="M532.5,217.4 L525.2,226.1 L521.5,222.5" fill="none" stroke="#333" stroke-width="0.9" stroke-linejoin="round"/>
<path d="M445.5,111.5 L447.2,113.5 L446.2,116.0 L447.0,118.0" fill="none" stroke="#333" stroke-width="0.9" stroke-linejoin="round"/>
<path d="M616.1,100.6 L616.1,107.9 L615.5,111.3 L608.8,111.3 L599.6,120.0 L594.6,124.2 L582.0,134.4 L580.7,135.2 L579.5,138.3 L577.7,141.3 L571.8,143.5 L567.6,147.8 L565.9,151.2 L565.4,157.0 L567.1,168.2 L569.4,174.9 L568.8,181.4 L566.6,184.7 L567.2,189.6 L571.6,194.6 L577.0,197.8 L585.8,200.6 L590.7,206.1 L606.6,204.4 L617.6,200.0 L624.0,198.0 L630.8,194.9 L632.7,193.4 L647.7,194.5 L657.3,193.2 L656.6,196.2 L676.3,206.3 L662.0,206.2 L649.5,211.2 L647.7,217.4 L619.0,213.7 L610.0,215.5 L594.8,222.2 L594.1,227.1 L594.8,233.2 L601.5,238.6 L606.3,239.2 L603.9,249.0 L603.9,255.0 L602.7,261.1 L594.1,263.5 L585.6,255.0 L580.7,249.6 L569.8,255.1 L568.0,259.9 L563.7,272.1 L564.3,280.6 L565.5,289.1 L566.1,296.4 L564.3,304.4" fill="none" stroke="#333" stroke-width="0.9" stroke-linejoin="round"/>
<path d="M564.3,291.0 L557.6,302.5 L556.4,304.4" fill="none" stroke="#333" stroke-width="0.9" stroke-linejoin="round"/>
<path d="M577.7,141.3 L564.3,141.9" fill="none" stroke="#333" stroke-width="0.9" stroke-linejoin="round"/>
<path d="M610.0,108.1 L606.9,108.1" fill="none" stroke="#333" stroke-width="0.9" stroke-linejoin="round"/>
<path d="M569.5,202.2 L570.5,202.2" fill="none" stroke="#333" stroke-width="0.9" stroke-linejoin="round"/>
<path d="M665.7,75.3 L675.1,94.3 L672.6,95.6 L670.7,99.9 L670.7,104.9 L669.9,109.3 L676.3,115.5 L675.1,118.0 L679.5,122.5 L681.6,126.1 L675.4,133.4 L693.6,148.7 L680.1,165.0 L669.0,175.0 L650.0,191.8 L647.7,194.5" fill="none" stroke="#333" stroke-width="0.9" stroke-linejoin="round"/>
<path d="M673.2,180.6 L683.8,171.9 L686.9,171.9 L708.0,186.2" fill="none" stroke="#333" stroke-width="0.9" stroke-linejoin="round"/>
<path d="M673.2,180.6 L680.7,189.6 L688.0,203.5 L691.3,207.5 L693.8,202.7 L703.8,202.7 L706.9,198.7 L708.0,197.0" fill="none" stroke="#333" stroke-width="0.9" stroke-linejoin="round"/>
<path d="M528.4,252.6 L537.8,246.6 L536.1,256.4 L528.4,263.2 L528.4,252.6" fill="none" stroke="#333" stroke-width="0.9" stroke-linejoin="round"/>
<path d="M537.8,246.6 L541.6,245.3" fill="none" stroke="#333" stroke-width="0.9" stroke-linejoin="round"/>
<path d="M514.8,257.7 L505.9,277.4" fill="none" stroke="#333" stroke-width="0.9" stroke-linejoin="round"/>
<path d="M514.0,259.0 L506.8,276.0" fill="none" stroke="#333" stroke-width="0.9" stroke-linejoin="round"/>
<path d="M485.8,297.5 L489.2,302.2" fill="none" stroke="#333" stroke-width="0.9" stroke-linejoin="round"/>
<path d="M578.3,225.8 L583.2,223.4 L586.8,228.3 L580.7,229.5 L578.3,225.8" fill="none" stroke="#333" stroke-width="0.9" stroke-linejoin="round"/>
<path d="M574.6,235.0 L588.0,233.2 L589.9,235.0 L577.1,244.1 L575.5,240.0 L574.6,235.0" fill="none" stroke="#333" stroke-width="0.9" stroke-linejoin="round"/>
<path d="M445.5,284.1 L450.4,286.1 L451.7,289.5 L453.7,282.8 L457.7,282.1 L458.4,286.1 L455.7,294.2 L455.0,298.2 L455.7,304.4" fill="none" stroke="#333" stroke-width="0.9" stroke-linejoin="round"/>
<path d="M445.5,300.9 L449.0,304.4" fill="none" stroke="#333" stroke-width="0.9" stroke-linejoin="round"/>
</g>
<rect x="87.5" y="73.5" width="262.0" height="229.0" fill="none" stroke="#4a4a4a" stroke-width="1.0"/>
<rect x="445.5" y="75.3" width="262.5" height="229.09999999999997" fill="none" stroke="#4a4a4a" stroke-width="1.0"/>
<line x1="110.6" y1="302.5" x2="110.6" y2="308.0" stroke="#4a4a4a" stroke-width="1.0"/>
<text x="110.6" y="323.4" font-size="10.4" text-anchor="middle" fill="#222">22</text>
<line x1="151.7" y1="302.5" x2="151.7" y2="308.0" stroke="#4a4a4a" stroke-width="1.0"/>
<text x="151.7" y="323.4" font-size="10.4" text-anchor="middle" fill="#222">24</text>
<line x1="192.8" y1="302.5" x2="192.8" y2="308.0" stroke="#4a4a4a" stroke-width="1.0"/>
<text x="192.8" y="323.4" font-size="10.4" text-anchor="middle" fill="#222">26</text>
<line x1="233.9" y1="302.5" x2="233.9" y2="308.0" stroke="#4a4a4a" stroke-width="1.0"/>
<text x="233.9" y="323.4" font-size="10.4" text-anchor="middle" fill="#222">28</text>
<line x1="275.0" y1="302.5" x2="275.0" y2="308.0" stroke="#4a4a4a" stroke-width="1.0"/>
<text x="275.0" y="323.4" font-size="10.4" text-anchor="middle" fill="#222">30</text>
<line x1="316.1" y1="302.5" x2="316.1" y2="308.0" stroke="#4a4a4a" stroke-width="1.0"/>
<text x="316.1" y="323.4" font-size="10.4" text-anchor="middle" fill="#222">32</text>
<line x1="87.5" y1="296.6" x2="82.0" y2="296.6" stroke="#4a4a4a" stroke-width="1.0"/>
<text transform="translate(75.5,297.1) rotate(-90)" font-size="10.4" text-anchor="middle" fill="#222">60</text>
<line x1="87.5" y1="260.6" x2="82.0" y2="260.6" stroke="#4a4a4a" stroke-width="1.0"/>
<text transform="translate(75.5,261.1) rotate(-90)" font-size="10.4" text-anchor="middle" fill="#222">61</text>
<line x1="87.5" y1="224.6" x2="82.0" y2="224.6" stroke="#4a4a4a" stroke-width="1.0"/>
<text transform="translate(75.5,225.1) rotate(-90)" font-size="10.4" text-anchor="middle" fill="#222">62</text>
<line x1="87.5" y1="188.6" x2="82.0" y2="188.6" stroke="#4a4a4a" stroke-width="1.0"/>
<text transform="translate(75.5,189.1) rotate(-90)" font-size="10.4" text-anchor="middle" fill="#222">63</text>
<line x1="87.5" y1="152.6" x2="82.0" y2="152.6" stroke="#4a4a4a" stroke-width="1.0"/>
<text transform="translate(75.5,153.1) rotate(-90)" font-size="10.4" text-anchor="middle" fill="#222">64</text>
<line x1="87.5" y1="116.6" x2="82.0" y2="116.6" stroke="#4a4a4a" stroke-width="1.0"/>
<text transform="translate(75.5,117.1) rotate(-90)" font-size="10.4" text-anchor="middle" fill="#222">65</text>
<line x1="87.5" y1="80.6" x2="82.0" y2="80.6" stroke="#4a4a4a" stroke-width="1.0"/>
<text transform="translate(75.5,81.1) rotate(-90)" font-size="10.4" text-anchor="middle" fill="#222">66</text>
<line x1="488.2" y1="304.4" x2="488.2" y2="309.9" stroke="#4a4a4a" stroke-width="1.0"/>
<text x="488.2" y="325.0" font-size="10.4" text-anchor="middle" fill="#222">15</text>
<line x1="550.3" y1="304.4" x2="550.3" y2="309.9" stroke="#4a4a4a" stroke-width="1.0"/>
<text x="550.3" y="325.0" font-size="10.4" text-anchor="middle" fill="#222">20</text>
<line x1="612.4" y1="304.4" x2="612.4" y2="309.9" stroke="#4a4a4a" stroke-width="1.0"/>
<text x="612.4" y="325.0" font-size="10.4" text-anchor="middle" fill="#222">25</text>
<line x1="674.5" y1="304.4" x2="674.5" y2="309.9" stroke="#4a4a4a" stroke-width="1.0"/>
<text x="674.5" y="325.0" font-size="10.4" text-anchor="middle" fill="#222">30</text>
<line x1="445.5" y1="283.1" x2="440.0" y2="283.1" stroke="#4a4a4a" stroke-width="1.0"/>
<text transform="translate(433.4,283.9) rotate(-90)" font-size="10.4" text-anchor="middle" fill="#222">56</text>
<line x1="445.5" y1="244.2" x2="440.0" y2="244.2" stroke="#4a4a4a" stroke-width="1.0"/>
<text transform="translate(433.4,245.0) rotate(-90)" font-size="10.4" text-anchor="middle" fill="#222">58</text>
<line x1="445.5" y1="205.3" x2="440.0" y2="205.3" stroke="#4a4a4a" stroke-width="1.0"/>
<text transform="translate(433.4,206.1) rotate(-90)" font-size="10.4" text-anchor="middle" fill="#222">60</text>
<line x1="445.5" y1="166.3" x2="440.0" y2="166.3" stroke="#4a4a4a" stroke-width="1.0"/>
<text transform="translate(433.4,167.1) rotate(-90)" font-size="10.4" text-anchor="middle" fill="#222">62</text>
<line x1="445.5" y1="127.4" x2="440.0" y2="127.4" stroke="#4a4a4a" stroke-width="1.0"/>
<text transform="translate(433.4,128.2) rotate(-90)" font-size="10.4" text-anchor="middle" fill="#222">64</text>
<line x1="445.5" y1="88.5" x2="440.0" y2="88.5" stroke="#4a4a4a" stroke-width="1.0"/>
<text transform="translate(433.4,89.3) rotate(-90)" font-size="10.4" text-anchor="middle" fill="#222">66</text>
<text x="201" y="339.1" font-size="20" text-anchor="middle" fill="#111">Longitude</text>
<text x="568" y="342.2" font-size="20" text-anchor="middle" fill="#111">Longitude</text>
<text transform="translate(57.6,197.6) rotate(-90)" font-size="20" text-anchor="middle" fill="#111">Latitude</text>
<text transform="translate(412.5,193.9) rotate(-90)" font-size="20" text-anchor="middle" fill="#111">Latitude</text>
<text transform="translate(5.6,31.6) scale(0.91,1)" font-size="31" font-weight="bold" fill="#111">a</text>
<text x="381.5" y="31.9" font-size="30" font-weight="bold" fill="#111">b</text>
<circle cx="237.1" cy="369.6" r="8.75" fill="none" stroke="#111" stroke-width="2.9"/>
<path d="M378.3,360.4 L391.0,378.3 L365.6,378.3 Z" fill="none" stroke="#e60d14" stroke-width="2.8" stroke-linejoin="miter"/>
<path d="M498.3,366.4 H522.4 M510.6,354.7 V378.4" stroke="#17c617" stroke-width="2.9"/>
<text x="236.2" y="402.7" font-size="15.6" text-anchor="middle" fill="#111">Cluster 1</text>
<text x="381.2" y="402.7" font-size="15.6" text-anchor="middle" fill="#111">Cluster 2</text>
<text x="512.8" y="402.7" font-size="15.6" text-anchor="middle" fill="#111">Cluster 3</text>
</svg></body></html>
